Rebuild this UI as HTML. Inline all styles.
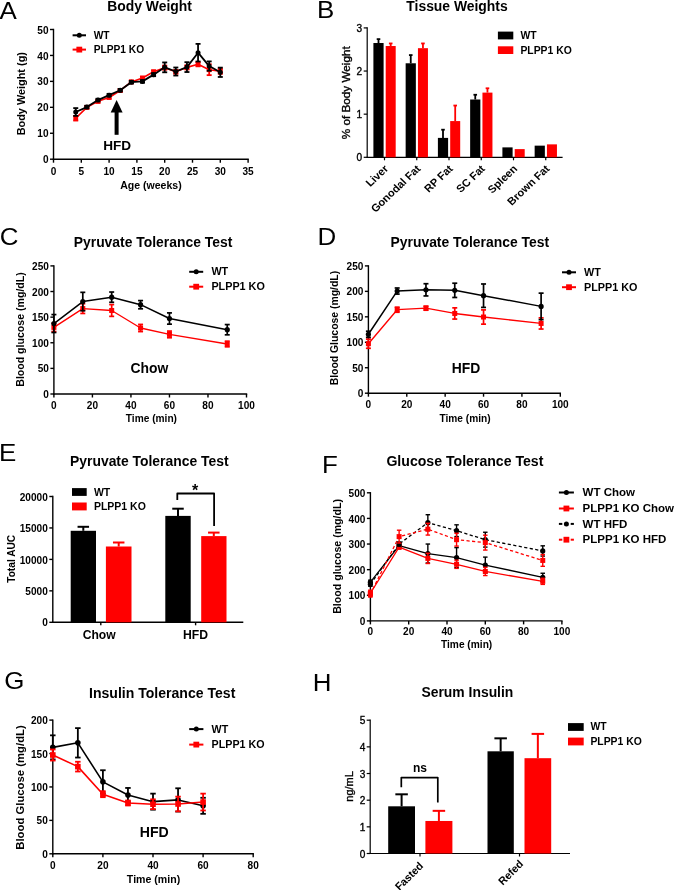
<!DOCTYPE html><html><head><meta charset="utf-8"><style>html,body{margin:0;padding:0;background:#fff;overflow:hidden;width:675px;height:890px;}svg{display:block;filter:blur(0.35px);}</style></head><body>
<svg width="675" height="890" viewBox="0 0 675 890" font-family='"Liberation Sans", sans-serif'>
<rect width="675" height="890" fill="#fff"/>
<text font-size="24.0" font-weight="normal" text-anchor="start" fill="#000" transform="translate(-0.50 18.50) scale(1.08 1)">A</text>
<text font-size="13.9" font-weight="bold" text-anchor="middle" fill="#000" transform="translate(149.60 10.80) scale(1.0 1)">Body Weight</text>
<line x1="53.50" y1="28.80" x2="53.50" y2="159.90" stroke="#000" stroke-width="1.4" stroke-linecap="butt"/>
<line x1="50.00" y1="159.20" x2="53.50" y2="159.20" stroke="#000" stroke-width="1.4" stroke-linecap="butt"/>
<text font-size="10.3" font-weight="bold" text-anchor="end" fill="#000" transform="translate(48.50 163.30) scale(0.98 1)">0</text>
<line x1="50.00" y1="133.26" x2="53.50" y2="133.26" stroke="#000" stroke-width="1.4" stroke-linecap="butt"/>
<text font-size="10.3" font-weight="bold" text-anchor="end" fill="#000" transform="translate(48.50 137.36) scale(0.98 1)">10</text>
<line x1="50.00" y1="107.32" x2="53.50" y2="107.32" stroke="#000" stroke-width="1.4" stroke-linecap="butt"/>
<text font-size="10.3" font-weight="bold" text-anchor="end" fill="#000" transform="translate(48.50 111.42) scale(0.98 1)">20</text>
<line x1="50.00" y1="81.38" x2="53.50" y2="81.38" stroke="#000" stroke-width="1.4" stroke-linecap="butt"/>
<text font-size="10.3" font-weight="bold" text-anchor="end" fill="#000" transform="translate(48.50 85.48) scale(0.98 1)">30</text>
<line x1="50.00" y1="55.44" x2="53.50" y2="55.44" stroke="#000" stroke-width="1.4" stroke-linecap="butt"/>
<text font-size="10.3" font-weight="bold" text-anchor="end" fill="#000" transform="translate(48.50 59.54) scale(0.98 1)">40</text>
<line x1="50.00" y1="29.50" x2="53.50" y2="29.50" stroke="#000" stroke-width="1.4" stroke-linecap="butt"/>
<text font-size="10.3" font-weight="bold" text-anchor="end" fill="#000" transform="translate(48.50 33.60) scale(0.98 1)">50</text>
<line x1="52.80" y1="159.20" x2="248.80" y2="159.20" stroke="#000" stroke-width="1.4" stroke-linecap="butt"/>
<line x1="53.50" y1="159.20" x2="53.50" y2="162.70" stroke="#000" stroke-width="1.4" stroke-linecap="butt"/>
<text font-size="10.3" font-weight="bold" text-anchor="middle" fill="#000" transform="translate(53.50 174.70) scale(0.98 1)">0</text>
<line x1="81.30" y1="159.20" x2="81.30" y2="162.70" stroke="#000" stroke-width="1.4" stroke-linecap="butt"/>
<text font-size="10.3" font-weight="bold" text-anchor="middle" fill="#000" transform="translate(81.30 174.70) scale(0.98 1)">5</text>
<line x1="109.10" y1="159.20" x2="109.10" y2="162.70" stroke="#000" stroke-width="1.4" stroke-linecap="butt"/>
<text font-size="10.3" font-weight="bold" text-anchor="middle" fill="#000" transform="translate(109.10 174.70) scale(0.98 1)">10</text>
<line x1="136.90" y1="159.20" x2="136.90" y2="162.70" stroke="#000" stroke-width="1.4" stroke-linecap="butt"/>
<text font-size="10.3" font-weight="bold" text-anchor="middle" fill="#000" transform="translate(136.90 174.70) scale(0.98 1)">15</text>
<line x1="164.70" y1="159.20" x2="164.70" y2="162.70" stroke="#000" stroke-width="1.4" stroke-linecap="butt"/>
<text font-size="10.3" font-weight="bold" text-anchor="middle" fill="#000" transform="translate(164.70 174.70) scale(0.98 1)">20</text>
<line x1="192.50" y1="159.20" x2="192.50" y2="162.70" stroke="#000" stroke-width="1.4" stroke-linecap="butt"/>
<text font-size="10.3" font-weight="bold" text-anchor="middle" fill="#000" transform="translate(192.50 174.70) scale(0.98 1)">25</text>
<line x1="220.30" y1="159.20" x2="220.30" y2="162.70" stroke="#000" stroke-width="1.4" stroke-linecap="butt"/>
<text font-size="10.3" font-weight="bold" text-anchor="middle" fill="#000" transform="translate(220.30 174.70) scale(0.98 1)">30</text>
<line x1="248.10" y1="159.20" x2="248.10" y2="162.70" stroke="#000" stroke-width="1.4" stroke-linecap="butt"/>
<text font-size="10.3" font-weight="bold" text-anchor="middle" fill="#000" transform="translate(248.10 174.70) scale(0.98 1)">35</text>
<text font-size="10.6" font-weight="bold" text-anchor="middle" fill="#000" transform="translate(150.90 188.80) scale(1.0 1)" textLength="61.5" lengthAdjust="spacingAndGlyphs">Age (weeks)</text>
<text font-size="10.9" font-weight="bold" text-anchor="middle" fill="#000" transform="translate(24.60 93.70) scale(1.0 1) rotate(-90)" textLength="83.2" lengthAdjust="spacingAndGlyphs">Body Weight (g)</text>
<polyline points="75.74,118.21 86.86,107.32 97.98,101.35 109.10,97.46 120.22,90.46 131.34,81.90 142.46,78.01 153.58,71.78 164.70,67.63 175.82,71.78 186.94,67.37 198.06,64.26 209.18,69.71 220.30,71.26" fill="none" stroke="#ff0000" stroke-width="1.6" stroke-linejoin="round"/>
<line x1="75.74" y1="118.21" x2="75.74" y2="115.88" stroke="#ff0000" stroke-width="1.8" stroke-linecap="butt"/>
<line x1="73.24" y1="115.88" x2="78.24" y2="115.88" stroke="#ff0000" stroke-width="1.8" stroke-linecap="butt"/>
<line x1="75.74" y1="118.21" x2="75.74" y2="120.55" stroke="#ff0000" stroke-width="1.8" stroke-linecap="butt"/>
<line x1="73.24" y1="120.55" x2="78.24" y2="120.55" stroke="#ff0000" stroke-width="1.8" stroke-linecap="butt"/>
<rect x="73.34" y="115.81" width="4.80" height="4.80" fill="#ff0000"/>
<line x1="86.86" y1="107.32" x2="86.86" y2="106.02" stroke="#ff0000" stroke-width="1.8" stroke-linecap="butt"/>
<line x1="84.36" y1="106.02" x2="89.36" y2="106.02" stroke="#ff0000" stroke-width="1.8" stroke-linecap="butt"/>
<line x1="86.86" y1="107.32" x2="86.86" y2="108.62" stroke="#ff0000" stroke-width="1.8" stroke-linecap="butt"/>
<line x1="84.36" y1="108.62" x2="89.36" y2="108.62" stroke="#ff0000" stroke-width="1.8" stroke-linecap="butt"/>
<rect x="84.46" y="104.92" width="4.80" height="4.80" fill="#ff0000"/>
<line x1="97.98" y1="101.35" x2="97.98" y2="100.06" stroke="#ff0000" stroke-width="1.8" stroke-linecap="butt"/>
<line x1="95.48" y1="100.06" x2="100.48" y2="100.06" stroke="#ff0000" stroke-width="1.8" stroke-linecap="butt"/>
<line x1="97.98" y1="101.35" x2="97.98" y2="102.65" stroke="#ff0000" stroke-width="1.8" stroke-linecap="butt"/>
<line x1="95.48" y1="102.65" x2="100.48" y2="102.65" stroke="#ff0000" stroke-width="1.8" stroke-linecap="butt"/>
<rect x="95.58" y="98.95" width="4.80" height="4.80" fill="#ff0000"/>
<line x1="109.10" y1="97.46" x2="109.10" y2="96.17" stroke="#ff0000" stroke-width="1.8" stroke-linecap="butt"/>
<line x1="106.60" y1="96.17" x2="111.60" y2="96.17" stroke="#ff0000" stroke-width="1.8" stroke-linecap="butt"/>
<line x1="109.10" y1="97.46" x2="109.10" y2="98.76" stroke="#ff0000" stroke-width="1.8" stroke-linecap="butt"/>
<line x1="106.60" y1="98.76" x2="111.60" y2="98.76" stroke="#ff0000" stroke-width="1.8" stroke-linecap="butt"/>
<rect x="106.70" y="95.06" width="4.80" height="4.80" fill="#ff0000"/>
<line x1="120.22" y1="90.46" x2="120.22" y2="89.16" stroke="#ff0000" stroke-width="1.8" stroke-linecap="butt"/>
<line x1="117.72" y1="89.16" x2="122.72" y2="89.16" stroke="#ff0000" stroke-width="1.8" stroke-linecap="butt"/>
<line x1="120.22" y1="90.46" x2="120.22" y2="91.76" stroke="#ff0000" stroke-width="1.8" stroke-linecap="butt"/>
<line x1="117.72" y1="91.76" x2="122.72" y2="91.76" stroke="#ff0000" stroke-width="1.8" stroke-linecap="butt"/>
<rect x="117.82" y="88.06" width="4.80" height="4.80" fill="#ff0000"/>
<line x1="131.34" y1="81.90" x2="131.34" y2="80.60" stroke="#ff0000" stroke-width="1.8" stroke-linecap="butt"/>
<line x1="128.84" y1="80.60" x2="133.84" y2="80.60" stroke="#ff0000" stroke-width="1.8" stroke-linecap="butt"/>
<line x1="131.34" y1="81.90" x2="131.34" y2="83.20" stroke="#ff0000" stroke-width="1.8" stroke-linecap="butt"/>
<line x1="128.84" y1="83.20" x2="133.84" y2="83.20" stroke="#ff0000" stroke-width="1.8" stroke-linecap="butt"/>
<rect x="128.94" y="79.50" width="4.80" height="4.80" fill="#ff0000"/>
<line x1="142.46" y1="78.01" x2="142.46" y2="76.71" stroke="#ff0000" stroke-width="1.8" stroke-linecap="butt"/>
<line x1="139.96" y1="76.71" x2="144.96" y2="76.71" stroke="#ff0000" stroke-width="1.8" stroke-linecap="butt"/>
<line x1="142.46" y1="78.01" x2="142.46" y2="79.30" stroke="#ff0000" stroke-width="1.8" stroke-linecap="butt"/>
<line x1="139.96" y1="79.30" x2="144.96" y2="79.30" stroke="#ff0000" stroke-width="1.8" stroke-linecap="butt"/>
<rect x="140.06" y="75.61" width="4.80" height="4.80" fill="#ff0000"/>
<line x1="153.58" y1="71.78" x2="153.58" y2="70.49" stroke="#ff0000" stroke-width="1.8" stroke-linecap="butt"/>
<line x1="151.08" y1="70.49" x2="156.08" y2="70.49" stroke="#ff0000" stroke-width="1.8" stroke-linecap="butt"/>
<line x1="153.58" y1="71.78" x2="153.58" y2="73.08" stroke="#ff0000" stroke-width="1.8" stroke-linecap="butt"/>
<line x1="151.08" y1="73.08" x2="156.08" y2="73.08" stroke="#ff0000" stroke-width="1.8" stroke-linecap="butt"/>
<rect x="151.18" y="69.38" width="4.80" height="4.80" fill="#ff0000"/>
<line x1="164.70" y1="67.63" x2="164.70" y2="65.56" stroke="#ff0000" stroke-width="1.8" stroke-linecap="butt"/>
<line x1="162.20" y1="65.56" x2="167.20" y2="65.56" stroke="#ff0000" stroke-width="1.8" stroke-linecap="butt"/>
<line x1="164.70" y1="67.63" x2="164.70" y2="69.71" stroke="#ff0000" stroke-width="1.8" stroke-linecap="butt"/>
<line x1="162.20" y1="69.71" x2="167.20" y2="69.71" stroke="#ff0000" stroke-width="1.8" stroke-linecap="butt"/>
<rect x="162.30" y="65.23" width="4.80" height="4.80" fill="#ff0000"/>
<line x1="175.82" y1="71.78" x2="175.82" y2="69.97" stroke="#ff0000" stroke-width="1.8" stroke-linecap="butt"/>
<line x1="173.32" y1="69.97" x2="178.32" y2="69.97" stroke="#ff0000" stroke-width="1.8" stroke-linecap="butt"/>
<line x1="175.82" y1="71.78" x2="175.82" y2="73.60" stroke="#ff0000" stroke-width="1.8" stroke-linecap="butt"/>
<line x1="173.32" y1="73.60" x2="178.32" y2="73.60" stroke="#ff0000" stroke-width="1.8" stroke-linecap="butt"/>
<rect x="173.42" y="69.38" width="4.80" height="4.80" fill="#ff0000"/>
<line x1="186.94" y1="67.37" x2="186.94" y2="65.30" stroke="#ff0000" stroke-width="1.8" stroke-linecap="butt"/>
<line x1="184.44" y1="65.30" x2="189.44" y2="65.30" stroke="#ff0000" stroke-width="1.8" stroke-linecap="butt"/>
<line x1="186.94" y1="67.37" x2="186.94" y2="69.45" stroke="#ff0000" stroke-width="1.8" stroke-linecap="butt"/>
<line x1="184.44" y1="69.45" x2="189.44" y2="69.45" stroke="#ff0000" stroke-width="1.8" stroke-linecap="butt"/>
<rect x="184.54" y="64.97" width="4.80" height="4.80" fill="#ff0000"/>
<line x1="198.06" y1="64.26" x2="198.06" y2="62.18" stroke="#ff0000" stroke-width="1.8" stroke-linecap="butt"/>
<line x1="195.56" y1="62.18" x2="200.56" y2="62.18" stroke="#ff0000" stroke-width="1.8" stroke-linecap="butt"/>
<line x1="198.06" y1="64.26" x2="198.06" y2="66.33" stroke="#ff0000" stroke-width="1.8" stroke-linecap="butt"/>
<line x1="195.56" y1="66.33" x2="200.56" y2="66.33" stroke="#ff0000" stroke-width="1.8" stroke-linecap="butt"/>
<rect x="195.66" y="61.86" width="4.80" height="4.80" fill="#ff0000"/>
<line x1="209.18" y1="69.71" x2="209.18" y2="64.26" stroke="#ff0000" stroke-width="1.8" stroke-linecap="butt"/>
<line x1="206.68" y1="64.26" x2="211.68" y2="64.26" stroke="#ff0000" stroke-width="1.8" stroke-linecap="butt"/>
<line x1="209.18" y1="69.71" x2="209.18" y2="75.15" stroke="#ff0000" stroke-width="1.8" stroke-linecap="butt"/>
<line x1="206.68" y1="75.15" x2="211.68" y2="75.15" stroke="#ff0000" stroke-width="1.8" stroke-linecap="butt"/>
<rect x="206.78" y="67.31" width="4.80" height="4.80" fill="#ff0000"/>
<line x1="220.30" y1="71.26" x2="220.30" y2="68.67" stroke="#ff0000" stroke-width="1.8" stroke-linecap="butt"/>
<line x1="217.80" y1="68.67" x2="222.80" y2="68.67" stroke="#ff0000" stroke-width="1.8" stroke-linecap="butt"/>
<line x1="220.30" y1="71.26" x2="220.30" y2="73.86" stroke="#ff0000" stroke-width="1.8" stroke-linecap="butt"/>
<line x1="217.80" y1="73.86" x2="222.80" y2="73.86" stroke="#ff0000" stroke-width="1.8" stroke-linecap="butt"/>
<rect x="217.90" y="68.86" width="4.80" height="4.80" fill="#ff0000"/>
<polyline points="75.74,111.99 86.86,107.06 97.98,100.06 109.10,95.13 120.22,90.20 131.34,82.16 142.46,81.38 153.58,74.64 164.70,67.37 175.82,71.52 186.94,67.11 198.06,52.69 209.18,66.08 220.30,72.30" fill="none" stroke="#000" stroke-width="1.8" stroke-linejoin="round"/>
<line x1="75.74" y1="111.99" x2="75.74" y2="108.10" stroke="#000" stroke-width="1.8" stroke-linecap="butt"/>
<line x1="73.24" y1="108.10" x2="78.24" y2="108.10" stroke="#000" stroke-width="1.8" stroke-linecap="butt"/>
<line x1="75.74" y1="111.99" x2="75.74" y2="115.88" stroke="#000" stroke-width="1.8" stroke-linecap="butt"/>
<line x1="73.24" y1="115.88" x2="78.24" y2="115.88" stroke="#000" stroke-width="1.8" stroke-linecap="butt"/>
<circle cx="75.74" cy="111.99" r="2.5" fill="#000"/>
<line x1="86.86" y1="107.06" x2="86.86" y2="105.76" stroke="#000" stroke-width="1.8" stroke-linecap="butt"/>
<line x1="84.36" y1="105.76" x2="89.36" y2="105.76" stroke="#000" stroke-width="1.8" stroke-linecap="butt"/>
<line x1="86.86" y1="107.06" x2="86.86" y2="108.36" stroke="#000" stroke-width="1.8" stroke-linecap="butt"/>
<line x1="84.36" y1="108.36" x2="89.36" y2="108.36" stroke="#000" stroke-width="1.8" stroke-linecap="butt"/>
<circle cx="86.86" cy="107.06" r="2.5" fill="#000"/>
<line x1="97.98" y1="100.06" x2="97.98" y2="98.76" stroke="#000" stroke-width="1.8" stroke-linecap="butt"/>
<line x1="95.48" y1="98.76" x2="100.48" y2="98.76" stroke="#000" stroke-width="1.8" stroke-linecap="butt"/>
<line x1="97.98" y1="100.06" x2="97.98" y2="101.35" stroke="#000" stroke-width="1.8" stroke-linecap="butt"/>
<line x1="95.48" y1="101.35" x2="100.48" y2="101.35" stroke="#000" stroke-width="1.8" stroke-linecap="butt"/>
<circle cx="97.98" cy="100.06" r="2.5" fill="#000"/>
<line x1="109.10" y1="95.13" x2="109.10" y2="93.83" stroke="#000" stroke-width="1.8" stroke-linecap="butt"/>
<line x1="106.60" y1="93.83" x2="111.60" y2="93.83" stroke="#000" stroke-width="1.8" stroke-linecap="butt"/>
<line x1="109.10" y1="95.13" x2="109.10" y2="96.43" stroke="#000" stroke-width="1.8" stroke-linecap="butt"/>
<line x1="106.60" y1="96.43" x2="111.60" y2="96.43" stroke="#000" stroke-width="1.8" stroke-linecap="butt"/>
<circle cx="109.10" cy="95.13" r="2.5" fill="#000"/>
<line x1="120.22" y1="90.20" x2="120.22" y2="88.90" stroke="#000" stroke-width="1.8" stroke-linecap="butt"/>
<line x1="117.72" y1="88.90" x2="122.72" y2="88.90" stroke="#000" stroke-width="1.8" stroke-linecap="butt"/>
<line x1="120.22" y1="90.20" x2="120.22" y2="91.50" stroke="#000" stroke-width="1.8" stroke-linecap="butt"/>
<line x1="117.72" y1="91.50" x2="122.72" y2="91.50" stroke="#000" stroke-width="1.8" stroke-linecap="butt"/>
<circle cx="120.22" cy="90.20" r="2.5" fill="#000"/>
<line x1="131.34" y1="82.16" x2="131.34" y2="80.86" stroke="#000" stroke-width="1.8" stroke-linecap="butt"/>
<line x1="128.84" y1="80.86" x2="133.84" y2="80.86" stroke="#000" stroke-width="1.8" stroke-linecap="butt"/>
<line x1="131.34" y1="82.16" x2="131.34" y2="83.46" stroke="#000" stroke-width="1.8" stroke-linecap="butt"/>
<line x1="128.84" y1="83.46" x2="133.84" y2="83.46" stroke="#000" stroke-width="1.8" stroke-linecap="butt"/>
<circle cx="131.34" cy="82.16" r="2.5" fill="#000"/>
<line x1="142.46" y1="81.38" x2="142.46" y2="80.08" stroke="#000" stroke-width="1.8" stroke-linecap="butt"/>
<line x1="139.96" y1="80.08" x2="144.96" y2="80.08" stroke="#000" stroke-width="1.8" stroke-linecap="butt"/>
<line x1="142.46" y1="81.38" x2="142.46" y2="82.68" stroke="#000" stroke-width="1.8" stroke-linecap="butt"/>
<line x1="139.96" y1="82.68" x2="144.96" y2="82.68" stroke="#000" stroke-width="1.8" stroke-linecap="butt"/>
<circle cx="142.46" cy="81.38" r="2.5" fill="#000"/>
<line x1="153.58" y1="74.64" x2="153.58" y2="73.08" stroke="#000" stroke-width="1.8" stroke-linecap="butt"/>
<line x1="151.08" y1="73.08" x2="156.08" y2="73.08" stroke="#000" stroke-width="1.8" stroke-linecap="butt"/>
<line x1="153.58" y1="74.64" x2="153.58" y2="76.19" stroke="#000" stroke-width="1.8" stroke-linecap="butt"/>
<line x1="151.08" y1="76.19" x2="156.08" y2="76.19" stroke="#000" stroke-width="1.8" stroke-linecap="butt"/>
<circle cx="153.58" cy="74.64" r="2.5" fill="#000"/>
<line x1="164.70" y1="67.37" x2="164.70" y2="62.44" stroke="#000" stroke-width="1.8" stroke-linecap="butt"/>
<line x1="162.20" y1="62.44" x2="167.20" y2="62.44" stroke="#000" stroke-width="1.8" stroke-linecap="butt"/>
<line x1="164.70" y1="67.37" x2="164.70" y2="72.30" stroke="#000" stroke-width="1.8" stroke-linecap="butt"/>
<line x1="162.20" y1="72.30" x2="167.20" y2="72.30" stroke="#000" stroke-width="1.8" stroke-linecap="butt"/>
<circle cx="164.70" cy="67.37" r="2.5" fill="#000"/>
<line x1="175.82" y1="71.52" x2="175.82" y2="67.50" stroke="#000" stroke-width="1.8" stroke-linecap="butt"/>
<line x1="173.32" y1="67.50" x2="178.32" y2="67.50" stroke="#000" stroke-width="1.8" stroke-linecap="butt"/>
<line x1="175.82" y1="71.52" x2="175.82" y2="75.54" stroke="#000" stroke-width="1.8" stroke-linecap="butt"/>
<line x1="173.32" y1="75.54" x2="178.32" y2="75.54" stroke="#000" stroke-width="1.8" stroke-linecap="butt"/>
<circle cx="175.82" cy="71.52" r="2.5" fill="#000"/>
<line x1="186.94" y1="67.11" x2="186.94" y2="62.18" stroke="#000" stroke-width="1.8" stroke-linecap="butt"/>
<line x1="184.44" y1="62.18" x2="189.44" y2="62.18" stroke="#000" stroke-width="1.8" stroke-linecap="butt"/>
<line x1="186.94" y1="67.11" x2="186.94" y2="72.04" stroke="#000" stroke-width="1.8" stroke-linecap="butt"/>
<line x1="184.44" y1="72.04" x2="189.44" y2="72.04" stroke="#000" stroke-width="1.8" stroke-linecap="butt"/>
<circle cx="186.94" cy="67.11" r="2.5" fill="#000"/>
<line x1="198.06" y1="52.69" x2="198.06" y2="43.87" stroke="#000" stroke-width="1.8" stroke-linecap="butt"/>
<line x1="195.56" y1="43.87" x2="200.56" y2="43.87" stroke="#000" stroke-width="1.8" stroke-linecap="butt"/>
<line x1="198.06" y1="52.69" x2="198.06" y2="61.51" stroke="#000" stroke-width="1.8" stroke-linecap="butt"/>
<line x1="195.56" y1="61.51" x2="200.56" y2="61.51" stroke="#000" stroke-width="1.8" stroke-linecap="butt"/>
<circle cx="198.06" cy="52.69" r="2.5" fill="#000"/>
<line x1="209.18" y1="66.08" x2="209.18" y2="61.41" stroke="#000" stroke-width="1.8" stroke-linecap="butt"/>
<line x1="206.68" y1="61.41" x2="211.68" y2="61.41" stroke="#000" stroke-width="1.8" stroke-linecap="butt"/>
<line x1="209.18" y1="66.08" x2="209.18" y2="70.74" stroke="#000" stroke-width="1.8" stroke-linecap="butt"/>
<line x1="206.68" y1="70.74" x2="211.68" y2="70.74" stroke="#000" stroke-width="1.8" stroke-linecap="butt"/>
<circle cx="209.18" cy="66.08" r="2.5" fill="#000"/>
<line x1="220.30" y1="72.30" x2="220.30" y2="67.63" stroke="#000" stroke-width="1.8" stroke-linecap="butt"/>
<line x1="217.80" y1="67.63" x2="222.80" y2="67.63" stroke="#000" stroke-width="1.8" stroke-linecap="butt"/>
<line x1="220.30" y1="72.30" x2="220.30" y2="76.97" stroke="#000" stroke-width="1.8" stroke-linecap="butt"/>
<line x1="217.80" y1="76.97" x2="222.80" y2="76.97" stroke="#000" stroke-width="1.8" stroke-linecap="butt"/>
<circle cx="220.30" cy="72.30" r="2.5" fill="#000"/>
<line x1="72.60" y1="35.30" x2="86.00" y2="35.30" stroke="#000" stroke-width="2.0" stroke-linecap="butt"/>
<circle cx="79.30" cy="35.30" r="2.5" fill="#000"/>
<text font-size="10.2" font-weight="bold" text-anchor="start" fill="#000" transform="translate(93.70 38.56) scale(1.0 1)">WT</text>
<line x1="72.60" y1="49.60" x2="86.00" y2="49.60" stroke="#ff0000" stroke-width="2.0" stroke-linecap="butt"/>
<rect x="76.40" y="46.70" width="5.80" height="5.80" fill="#ff0000"/>
<text font-size="10.2" font-weight="bold" text-anchor="start" fill="#000" transform="translate(93.70 52.86) scale(1.0 1)">PLPP1 KO</text>
<rect x="114.60" y="111.50" width="4.00" height="23.30" fill="#000"/>
<polygon points="116.6,100 110.7,112.4 122.6,112.4" fill="#000"/>
<text font-size="13.6" font-weight="bold" text-anchor="middle" fill="#000" transform="translate(117.10 149.70) scale(1.0 1)">HFD</text>
<text font-size="24.0" font-weight="normal" text-anchor="start" fill="#000" transform="translate(317.00 18.30) scale(1.08 1)">B</text>
<text font-size="13.9" font-weight="bold" text-anchor="middle" fill="#000" transform="translate(457.00 10.90) scale(1.0 1)">Tissue Weights</text>
<line x1="367.20" y1="27.31" x2="367.20" y2="157.90" stroke="#000" stroke-width="1.2" stroke-linecap="butt"/>
<line x1="363.70" y1="157.30" x2="367.20" y2="157.30" stroke="#000" stroke-width="1.2" stroke-linecap="butt"/>
<text font-size="10.3" font-weight="normal" text-anchor="end" fill="#000" transform="translate(362.10 161.40) scale(0.98 1)" stroke="#000" stroke-width="0.35">0</text>
<line x1="363.70" y1="114.17" x2="367.20" y2="114.17" stroke="#000" stroke-width="1.2" stroke-linecap="butt"/>
<text font-size="10.3" font-weight="normal" text-anchor="end" fill="#000" transform="translate(362.10 118.27) scale(0.98 1)" stroke="#000" stroke-width="0.35">1</text>
<line x1="363.70" y1="71.04" x2="367.20" y2="71.04" stroke="#000" stroke-width="1.2" stroke-linecap="butt"/>
<text font-size="10.3" font-weight="normal" text-anchor="end" fill="#000" transform="translate(362.10 75.14) scale(0.98 1)" stroke="#000" stroke-width="0.35">2</text>
<line x1="363.70" y1="27.91" x2="367.20" y2="27.91" stroke="#000" stroke-width="1.2" stroke-linecap="butt"/>
<text font-size="10.3" font-weight="normal" text-anchor="end" fill="#000" transform="translate(362.10 32.01) scale(0.98 1)" stroke="#000" stroke-width="0.35">3</text>
<line x1="366.60" y1="157.30" x2="562.60" y2="157.30" stroke="#000" stroke-width="1.2" stroke-linecap="butt"/>
<line x1="384.50" y1="157.30" x2="384.50" y2="160.30" stroke="#000" stroke-width="1.2" stroke-linecap="butt"/>
<line x1="416.75" y1="157.30" x2="416.75" y2="160.30" stroke="#000" stroke-width="1.2" stroke-linecap="butt"/>
<line x1="449.00" y1="157.30" x2="449.00" y2="160.30" stroke="#000" stroke-width="1.2" stroke-linecap="butt"/>
<line x1="481.25" y1="157.30" x2="481.25" y2="160.30" stroke="#000" stroke-width="1.2" stroke-linecap="butt"/>
<line x1="513.50" y1="157.30" x2="513.50" y2="160.30" stroke="#000" stroke-width="1.2" stroke-linecap="butt"/>
<line x1="545.75" y1="157.30" x2="545.75" y2="160.30" stroke="#000" stroke-width="1.2" stroke-linecap="butt"/>
<rect x="373.40" y="43.01" width="10.20" height="114.29" fill="#000"/>
<line x1="378.50" y1="43.01" x2="378.50" y2="39.12" stroke="#000" stroke-width="1.8" stroke-linecap="butt"/>
<line x1="376.70" y1="39.12" x2="380.30" y2="39.12" stroke="#000" stroke-width="1.8" stroke-linecap="butt"/>
<rect x="385.70" y="46.02" width="10.00" height="111.28" fill="#ff0000"/>
<line x1="390.70" y1="46.02" x2="390.70" y2="43.44" stroke="#ff0000" stroke-width="1.8" stroke-linecap="butt"/>
<line x1="388.90" y1="43.44" x2="392.50" y2="43.44" stroke="#ff0000" stroke-width="1.8" stroke-linecap="butt"/>
<rect x="405.65" y="63.28" width="10.20" height="94.02" fill="#000"/>
<line x1="410.75" y1="63.28" x2="410.75" y2="55.08" stroke="#000" stroke-width="1.8" stroke-linecap="butt"/>
<line x1="408.95" y1="55.08" x2="412.55" y2="55.08" stroke="#000" stroke-width="1.8" stroke-linecap="butt"/>
<rect x="417.95" y="48.18" width="10.00" height="109.12" fill="#ff0000"/>
<line x1="422.95" y1="48.18" x2="422.95" y2="43.44" stroke="#ff0000" stroke-width="1.8" stroke-linecap="butt"/>
<line x1="421.15" y1="43.44" x2="424.75" y2="43.44" stroke="#ff0000" stroke-width="1.8" stroke-linecap="butt"/>
<rect x="437.90" y="137.89" width="10.20" height="19.41" fill="#000"/>
<line x1="443.00" y1="137.89" x2="443.00" y2="129.70" stroke="#000" stroke-width="1.8" stroke-linecap="butt"/>
<line x1="441.20" y1="129.70" x2="444.80" y2="129.70" stroke="#000" stroke-width="1.8" stroke-linecap="butt"/>
<rect x="450.20" y="121.07" width="10.00" height="36.23" fill="#ff0000"/>
<line x1="455.20" y1="121.07" x2="455.20" y2="105.54" stroke="#ff0000" stroke-width="1.8" stroke-linecap="butt"/>
<line x1="453.40" y1="105.54" x2="457.00" y2="105.54" stroke="#ff0000" stroke-width="1.8" stroke-linecap="butt"/>
<rect x="470.15" y="99.51" width="10.20" height="57.79" fill="#000"/>
<line x1="475.25" y1="99.51" x2="475.25" y2="94.76" stroke="#000" stroke-width="1.8" stroke-linecap="butt"/>
<line x1="473.45" y1="94.76" x2="477.05" y2="94.76" stroke="#000" stroke-width="1.8" stroke-linecap="butt"/>
<rect x="482.45" y="92.61" width="10.00" height="64.70" fill="#ff0000"/>
<line x1="487.45" y1="92.61" x2="487.45" y2="88.29" stroke="#ff0000" stroke-width="1.8" stroke-linecap="butt"/>
<line x1="485.65" y1="88.29" x2="489.25" y2="88.29" stroke="#ff0000" stroke-width="1.8" stroke-linecap="butt"/>
<rect x="502.40" y="147.38" width="10.20" height="9.92" fill="#000"/>
<rect x="514.70" y="149.11" width="10.00" height="8.19" fill="#ff0000"/>
<rect x="534.65" y="145.65" width="10.20" height="11.65" fill="#000"/>
<rect x="546.95" y="144.36" width="10.00" height="12.94" fill="#ff0000"/>
<text font-size="10.6" font-weight="bold" text-anchor="end" fill="#000" transform="translate(389.00 169.40) scale(1.05 1) rotate(-45)">Liver</text>
<text font-size="10.6" font-weight="bold" text-anchor="end" fill="#000" transform="translate(421.25 169.40) scale(1.05 1) rotate(-45)">Gonodal Fat</text>
<text font-size="10.6" font-weight="bold" text-anchor="end" fill="#000" transform="translate(453.50 169.40) scale(1.05 1) rotate(-45)">RP Fat</text>
<text font-size="10.6" font-weight="bold" text-anchor="end" fill="#000" transform="translate(485.75 169.40) scale(1.05 1) rotate(-45)">SC Fat</text>
<text font-size="10.6" font-weight="bold" text-anchor="end" fill="#000" transform="translate(518.00 169.40) scale(1.05 1) rotate(-45)">Spleen</text>
<text font-size="10.6" font-weight="bold" text-anchor="end" fill="#000" transform="translate(550.25 169.40) scale(1.05 1) rotate(-45)">Brown Fat</text>
<text font-size="10.9" font-weight="normal" text-anchor="middle" fill="#000" transform="translate(349.80 92.80) scale(1.0 1) rotate(-90)" textLength="93.0" lengthAdjust="spacingAndGlyphs" stroke="#000" stroke-width="0.35">% of Body Weight</text>
<rect x="497.90" y="31.60" width="15.40" height="7.80" fill="#000"/>
<rect x="497.90" y="46.30" width="15.40" height="7.70" fill="#ff0000"/>
<text font-size="10.4" font-weight="bold" text-anchor="start" fill="#000" transform="translate(520.40 39.20) scale(1.0 1)">WT</text>
<text font-size="10.4" font-weight="bold" text-anchor="start" fill="#000" transform="translate(520.40 53.90) scale(1.0 1)">PLPP1 KO</text>
<text font-size="24.0" font-weight="normal" text-anchor="start" fill="#000" transform="translate(-0.20 244.50) scale(1.08 1)">C</text>
<text font-size="13.9" font-weight="bold" text-anchor="middle" fill="#000" transform="translate(153.00 246.70) scale(1.0 1)">Pyruvate Tolerance Test</text>
<line x1="53.90" y1="265.20" x2="53.90" y2="394.70" stroke="#000" stroke-width="1.4" stroke-linecap="butt"/>
<line x1="50.40" y1="394.00" x2="53.90" y2="394.00" stroke="#000" stroke-width="1.4" stroke-linecap="butt"/>
<text font-size="10.3" font-weight="bold" text-anchor="end" fill="#000" transform="translate(48.90 398.10) scale(0.98 1)">0</text>
<line x1="50.40" y1="368.38" x2="53.90" y2="368.38" stroke="#000" stroke-width="1.4" stroke-linecap="butt"/>
<text font-size="10.3" font-weight="bold" text-anchor="end" fill="#000" transform="translate(48.90 372.48) scale(0.98 1)">50</text>
<line x1="50.40" y1="342.76" x2="53.90" y2="342.76" stroke="#000" stroke-width="1.4" stroke-linecap="butt"/>
<text font-size="10.3" font-weight="bold" text-anchor="end" fill="#000" transform="translate(48.90 346.86) scale(0.98 1)">100</text>
<line x1="50.40" y1="317.14" x2="53.90" y2="317.14" stroke="#000" stroke-width="1.4" stroke-linecap="butt"/>
<text font-size="10.3" font-weight="bold" text-anchor="end" fill="#000" transform="translate(48.90 321.24) scale(0.98 1)">150</text>
<line x1="50.40" y1="291.52" x2="53.90" y2="291.52" stroke="#000" stroke-width="1.4" stroke-linecap="butt"/>
<text font-size="10.3" font-weight="bold" text-anchor="end" fill="#000" transform="translate(48.90 295.62) scale(0.98 1)">200</text>
<line x1="50.40" y1="265.90" x2="53.90" y2="265.90" stroke="#000" stroke-width="1.4" stroke-linecap="butt"/>
<text font-size="10.3" font-weight="bold" text-anchor="end" fill="#000" transform="translate(48.90 270.00) scale(0.98 1)">250</text>
<line x1="53.20" y1="394.00" x2="247.20" y2="394.00" stroke="#000" stroke-width="1.4" stroke-linecap="butt"/>
<line x1="53.90" y1="394.00" x2="53.90" y2="397.50" stroke="#000" stroke-width="1.4" stroke-linecap="butt"/>
<text font-size="10.3" font-weight="bold" text-anchor="middle" fill="#000" transform="translate(53.90 409.10) scale(0.98 1)">0</text>
<line x1="92.42" y1="394.00" x2="92.42" y2="397.50" stroke="#000" stroke-width="1.4" stroke-linecap="butt"/>
<text font-size="10.3" font-weight="bold" text-anchor="middle" fill="#000" transform="translate(92.42 409.10) scale(0.98 1)">20</text>
<line x1="130.94" y1="394.00" x2="130.94" y2="397.50" stroke="#000" stroke-width="1.4" stroke-linecap="butt"/>
<text font-size="10.3" font-weight="bold" text-anchor="middle" fill="#000" transform="translate(130.94 409.10) scale(0.98 1)">40</text>
<line x1="169.46" y1="394.00" x2="169.46" y2="397.50" stroke="#000" stroke-width="1.4" stroke-linecap="butt"/>
<text font-size="10.3" font-weight="bold" text-anchor="middle" fill="#000" transform="translate(169.46 409.10) scale(0.98 1)">60</text>
<line x1="207.98" y1="394.00" x2="207.98" y2="397.50" stroke="#000" stroke-width="1.4" stroke-linecap="butt"/>
<text font-size="10.3" font-weight="bold" text-anchor="middle" fill="#000" transform="translate(207.98 409.10) scale(0.98 1)">80</text>
<line x1="246.50" y1="394.00" x2="246.50" y2="397.50" stroke="#000" stroke-width="1.4" stroke-linecap="butt"/>
<text font-size="10.3" font-weight="bold" text-anchor="middle" fill="#000" transform="translate(246.50 409.10) scale(0.98 1)">100</text>
<text font-size="10.2" font-weight="bold" text-anchor="middle" fill="#000" transform="translate(151.40 422.20) scale(1.0 1)" textLength="51.2" lengthAdjust="spacingAndGlyphs">Time (min)</text>
<text font-size="10.4" font-weight="bold" text-anchor="middle" fill="#000" transform="translate(24.00 329.50) scale(1.0 1) rotate(-90)" textLength="114.5" lengthAdjust="spacingAndGlyphs">Blood glucose (mg/dL)</text>
<polyline points="53.90,327.39 82.79,308.58 111.68,310.48 140.57,328.00 169.46,334.41 227.24,343.99" fill="none" stroke="#ff0000" stroke-width="1.35" stroke-linejoin="round"/>
<line x1="53.90" y1="327.39" x2="53.90" y2="323.29" stroke="#ff0000" stroke-width="1.7" stroke-linecap="butt"/>
<line x1="51.40" y1="323.29" x2="56.40" y2="323.29" stroke="#ff0000" stroke-width="1.7" stroke-linecap="butt"/>
<line x1="53.90" y1="327.39" x2="53.90" y2="331.49" stroke="#ff0000" stroke-width="1.7" stroke-linecap="butt"/>
<line x1="51.40" y1="331.49" x2="56.40" y2="331.49" stroke="#ff0000" stroke-width="1.7" stroke-linecap="butt"/>
<rect x="51.40" y="324.89" width="5.00" height="5.00" fill="#ff0000"/>
<line x1="82.79" y1="308.58" x2="82.79" y2="303.72" stroke="#ff0000" stroke-width="1.7" stroke-linecap="butt"/>
<line x1="80.29" y1="303.72" x2="85.29" y2="303.72" stroke="#ff0000" stroke-width="1.7" stroke-linecap="butt"/>
<line x1="82.79" y1="308.58" x2="82.79" y2="313.45" stroke="#ff0000" stroke-width="1.7" stroke-linecap="butt"/>
<line x1="80.29" y1="313.45" x2="85.29" y2="313.45" stroke="#ff0000" stroke-width="1.7" stroke-linecap="butt"/>
<rect x="80.29" y="306.08" width="5.00" height="5.00" fill="#ff0000"/>
<line x1="111.68" y1="310.48" x2="111.68" y2="304.59" stroke="#ff0000" stroke-width="1.7" stroke-linecap="butt"/>
<line x1="109.18" y1="304.59" x2="114.18" y2="304.59" stroke="#ff0000" stroke-width="1.7" stroke-linecap="butt"/>
<line x1="111.68" y1="310.48" x2="111.68" y2="316.37" stroke="#ff0000" stroke-width="1.7" stroke-linecap="butt"/>
<line x1="109.18" y1="316.37" x2="114.18" y2="316.37" stroke="#ff0000" stroke-width="1.7" stroke-linecap="butt"/>
<rect x="109.18" y="307.98" width="5.00" height="5.00" fill="#ff0000"/>
<line x1="140.57" y1="328.00" x2="140.57" y2="324.42" stroke="#ff0000" stroke-width="1.7" stroke-linecap="butt"/>
<line x1="138.07" y1="324.42" x2="143.07" y2="324.42" stroke="#ff0000" stroke-width="1.7" stroke-linecap="butt"/>
<line x1="140.57" y1="328.00" x2="140.57" y2="331.59" stroke="#ff0000" stroke-width="1.7" stroke-linecap="butt"/>
<line x1="138.07" y1="331.59" x2="143.07" y2="331.59" stroke="#ff0000" stroke-width="1.7" stroke-linecap="butt"/>
<rect x="138.07" y="325.50" width="5.00" height="5.00" fill="#ff0000"/>
<line x1="169.46" y1="334.41" x2="169.46" y2="331.08" stroke="#ff0000" stroke-width="1.7" stroke-linecap="butt"/>
<line x1="166.96" y1="331.08" x2="171.96" y2="331.08" stroke="#ff0000" stroke-width="1.7" stroke-linecap="butt"/>
<line x1="169.46" y1="334.41" x2="169.46" y2="337.74" stroke="#ff0000" stroke-width="1.7" stroke-linecap="butt"/>
<line x1="166.96" y1="337.74" x2="171.96" y2="337.74" stroke="#ff0000" stroke-width="1.7" stroke-linecap="butt"/>
<rect x="166.96" y="331.91" width="5.00" height="5.00" fill="#ff0000"/>
<line x1="227.24" y1="343.99" x2="227.24" y2="341.17" stroke="#ff0000" stroke-width="1.7" stroke-linecap="butt"/>
<line x1="224.74" y1="341.17" x2="229.74" y2="341.17" stroke="#ff0000" stroke-width="1.7" stroke-linecap="butt"/>
<line x1="227.24" y1="343.99" x2="227.24" y2="346.81" stroke="#ff0000" stroke-width="1.7" stroke-linecap="butt"/>
<line x1="224.74" y1="346.81" x2="229.74" y2="346.81" stroke="#ff0000" stroke-width="1.7" stroke-linecap="butt"/>
<rect x="224.74" y="341.49" width="5.00" height="5.00" fill="#ff0000"/>
<polyline points="53.90,323.54 82.79,301.56 111.68,297.16 140.57,304.69 169.46,318.52 227.24,329.69" fill="none" stroke="#000" stroke-width="1.5" stroke-linejoin="round"/>
<line x1="53.90" y1="323.54" x2="53.90" y2="314.58" stroke="#000" stroke-width="1.7" stroke-linecap="butt"/>
<line x1="51.40" y1="314.58" x2="56.40" y2="314.58" stroke="#000" stroke-width="1.7" stroke-linecap="butt"/>
<line x1="53.90" y1="323.54" x2="53.90" y2="332.51" stroke="#000" stroke-width="1.7" stroke-linecap="butt"/>
<line x1="51.40" y1="332.51" x2="56.40" y2="332.51" stroke="#000" stroke-width="1.7" stroke-linecap="butt"/>
<circle cx="53.90" cy="323.54" r="2.6" fill="#000"/>
<line x1="82.79" y1="301.56" x2="82.79" y2="292.34" stroke="#000" stroke-width="1.7" stroke-linecap="butt"/>
<line x1="80.29" y1="292.34" x2="85.29" y2="292.34" stroke="#000" stroke-width="1.7" stroke-linecap="butt"/>
<line x1="82.79" y1="301.56" x2="82.79" y2="310.79" stroke="#000" stroke-width="1.7" stroke-linecap="butt"/>
<line x1="80.29" y1="310.79" x2="85.29" y2="310.79" stroke="#000" stroke-width="1.7" stroke-linecap="butt"/>
<circle cx="82.79" cy="301.56" r="2.6" fill="#000"/>
<line x1="111.68" y1="297.16" x2="111.68" y2="292.03" stroke="#000" stroke-width="1.7" stroke-linecap="butt"/>
<line x1="109.18" y1="292.03" x2="114.18" y2="292.03" stroke="#000" stroke-width="1.7" stroke-linecap="butt"/>
<line x1="111.68" y1="297.16" x2="111.68" y2="302.28" stroke="#000" stroke-width="1.7" stroke-linecap="butt"/>
<line x1="109.18" y1="302.28" x2="114.18" y2="302.28" stroke="#000" stroke-width="1.7" stroke-linecap="butt"/>
<circle cx="111.68" cy="297.16" r="2.6" fill="#000"/>
<line x1="140.57" y1="304.69" x2="140.57" y2="300.59" stroke="#000" stroke-width="1.7" stroke-linecap="butt"/>
<line x1="138.07" y1="300.59" x2="143.07" y2="300.59" stroke="#000" stroke-width="1.7" stroke-linecap="butt"/>
<line x1="140.57" y1="304.69" x2="140.57" y2="308.79" stroke="#000" stroke-width="1.7" stroke-linecap="butt"/>
<line x1="138.07" y1="308.79" x2="143.07" y2="308.79" stroke="#000" stroke-width="1.7" stroke-linecap="butt"/>
<circle cx="140.57" cy="304.69" r="2.6" fill="#000"/>
<line x1="169.46" y1="318.52" x2="169.46" y2="312.89" stroke="#000" stroke-width="1.7" stroke-linecap="butt"/>
<line x1="166.96" y1="312.89" x2="171.96" y2="312.89" stroke="#000" stroke-width="1.7" stroke-linecap="butt"/>
<line x1="169.46" y1="318.52" x2="169.46" y2="324.16" stroke="#000" stroke-width="1.7" stroke-linecap="butt"/>
<line x1="166.96" y1="324.16" x2="171.96" y2="324.16" stroke="#000" stroke-width="1.7" stroke-linecap="butt"/>
<circle cx="169.46" cy="318.52" r="2.6" fill="#000"/>
<line x1="227.24" y1="329.69" x2="227.24" y2="324.57" stroke="#000" stroke-width="1.7" stroke-linecap="butt"/>
<line x1="224.74" y1="324.57" x2="229.74" y2="324.57" stroke="#000" stroke-width="1.7" stroke-linecap="butt"/>
<line x1="227.24" y1="329.69" x2="227.24" y2="334.82" stroke="#000" stroke-width="1.7" stroke-linecap="butt"/>
<line x1="224.74" y1="334.82" x2="229.74" y2="334.82" stroke="#000" stroke-width="1.7" stroke-linecap="butt"/>
<circle cx="227.24" cy="329.69" r="2.6" fill="#000"/>
<line x1="189.20" y1="271.80" x2="203.20" y2="271.80" stroke="#000" stroke-width="2.0" stroke-linecap="butt"/>
<circle cx="196.20" cy="271.80" r="2.5" fill="#000"/>
<text font-size="10.8" font-weight="bold" text-anchor="start" fill="#000" transform="translate(211.40 275.26) scale(1.0 1)">WT</text>
<line x1="189.20" y1="286.70" x2="203.20" y2="286.70" stroke="#ff0000" stroke-width="2.0" stroke-linecap="butt"/>
<rect x="193.30" y="283.80" width="5.80" height="5.80" fill="#ff0000"/>
<text font-size="10.8" font-weight="bold" text-anchor="start" fill="#000" transform="translate(211.40 290.16) scale(1.0 1)">PLPP1 KO</text>
<text font-size="13.9" font-weight="bold" text-anchor="middle" fill="#000" transform="translate(149.30 372.70) scale(1.0 1)">Chow</text>
<text font-size="24.0" font-weight="normal" text-anchor="start" fill="#000" transform="translate(317.50 244.50) scale(1.08 1)">D</text>
<text font-size="13.9" font-weight="bold" text-anchor="middle" fill="#000" transform="translate(469.80 246.70) scale(1.0 1)">Pyruvate Tolerance Test</text>
<line x1="368.40" y1="265.20" x2="368.40" y2="393.90" stroke="#000" stroke-width="1.4" stroke-linecap="butt"/>
<line x1="364.90" y1="393.20" x2="368.40" y2="393.20" stroke="#000" stroke-width="1.4" stroke-linecap="butt"/>
<text font-size="10.3" font-weight="bold" text-anchor="end" fill="#000" transform="translate(363.40 397.30) scale(0.98 1)">0</text>
<line x1="364.90" y1="367.74" x2="368.40" y2="367.74" stroke="#000" stroke-width="1.4" stroke-linecap="butt"/>
<text font-size="10.3" font-weight="bold" text-anchor="end" fill="#000" transform="translate(363.40 371.84) scale(0.98 1)">50</text>
<line x1="364.90" y1="342.28" x2="368.40" y2="342.28" stroke="#000" stroke-width="1.4" stroke-linecap="butt"/>
<text font-size="10.3" font-weight="bold" text-anchor="end" fill="#000" transform="translate(363.40 346.38) scale(0.98 1)">100</text>
<line x1="364.90" y1="316.82" x2="368.40" y2="316.82" stroke="#000" stroke-width="1.4" stroke-linecap="butt"/>
<text font-size="10.3" font-weight="bold" text-anchor="end" fill="#000" transform="translate(363.40 320.92) scale(0.98 1)">150</text>
<line x1="364.90" y1="291.36" x2="368.40" y2="291.36" stroke="#000" stroke-width="1.4" stroke-linecap="butt"/>
<text font-size="10.3" font-weight="bold" text-anchor="end" fill="#000" transform="translate(363.40 295.46) scale(0.98 1)">200</text>
<line x1="364.90" y1="265.90" x2="368.40" y2="265.90" stroke="#000" stroke-width="1.4" stroke-linecap="butt"/>
<text font-size="10.3" font-weight="bold" text-anchor="end" fill="#000" transform="translate(363.40 270.00) scale(0.98 1)">250</text>
<line x1="367.70" y1="393.20" x2="561.00" y2="393.20" stroke="#000" stroke-width="1.4" stroke-linecap="butt"/>
<line x1="368.40" y1="393.20" x2="368.40" y2="396.70" stroke="#000" stroke-width="1.4" stroke-linecap="butt"/>
<text font-size="10.3" font-weight="bold" text-anchor="middle" fill="#000" transform="translate(368.40 408.30) scale(0.98 1)">0</text>
<line x1="406.78" y1="393.20" x2="406.78" y2="396.70" stroke="#000" stroke-width="1.4" stroke-linecap="butt"/>
<text font-size="10.3" font-weight="bold" text-anchor="middle" fill="#000" transform="translate(406.78 408.30) scale(0.98 1)">20</text>
<line x1="445.16" y1="393.20" x2="445.16" y2="396.70" stroke="#000" stroke-width="1.4" stroke-linecap="butt"/>
<text font-size="10.3" font-weight="bold" text-anchor="middle" fill="#000" transform="translate(445.16 408.30) scale(0.98 1)">40</text>
<line x1="483.54" y1="393.20" x2="483.54" y2="396.70" stroke="#000" stroke-width="1.4" stroke-linecap="butt"/>
<text font-size="10.3" font-weight="bold" text-anchor="middle" fill="#000" transform="translate(483.54 408.30) scale(0.98 1)">60</text>
<line x1="521.92" y1="393.20" x2="521.92" y2="396.70" stroke="#000" stroke-width="1.4" stroke-linecap="butt"/>
<text font-size="10.3" font-weight="bold" text-anchor="middle" fill="#000" transform="translate(521.92 408.30) scale(0.98 1)">80</text>
<line x1="560.30" y1="393.20" x2="560.30" y2="396.70" stroke="#000" stroke-width="1.4" stroke-linecap="butt"/>
<text font-size="10.3" font-weight="bold" text-anchor="middle" fill="#000" transform="translate(560.30 408.30) scale(0.98 1)">100</text>
<text font-size="10.2" font-weight="bold" text-anchor="middle" fill="#000" transform="translate(465.00 422.20) scale(1.0 1)" textLength="51.2" lengthAdjust="spacingAndGlyphs">Time (min)</text>
<text font-size="10.4" font-weight="bold" text-anchor="middle" fill="#000" transform="translate(338.40 328.10) scale(1.0 1) rotate(-90)" textLength="114.5" lengthAdjust="spacingAndGlyphs">Blood Glucose (mg/dL)</text>
<polyline points="368.40,343.71 397.18,309.69 425.97,308.16 454.75,313.46 483.54,317.02 541.11,323.44" fill="none" stroke="#ff0000" stroke-width="1.35" stroke-linejoin="round"/>
<line x1="368.40" y1="343.71" x2="368.40" y2="339.12" stroke="#ff0000" stroke-width="1.7" stroke-linecap="butt"/>
<line x1="365.90" y1="339.12" x2="370.90" y2="339.12" stroke="#ff0000" stroke-width="1.7" stroke-linecap="butt"/>
<line x1="368.40" y1="343.71" x2="368.40" y2="348.29" stroke="#ff0000" stroke-width="1.7" stroke-linecap="butt"/>
<line x1="365.90" y1="348.29" x2="370.90" y2="348.29" stroke="#ff0000" stroke-width="1.7" stroke-linecap="butt"/>
<rect x="365.90" y="341.21" width="5.00" height="5.00" fill="#ff0000"/>
<line x1="397.18" y1="309.69" x2="397.18" y2="307.15" stroke="#ff0000" stroke-width="1.7" stroke-linecap="butt"/>
<line x1="394.68" y1="307.15" x2="399.68" y2="307.15" stroke="#ff0000" stroke-width="1.7" stroke-linecap="butt"/>
<line x1="397.18" y1="309.69" x2="397.18" y2="312.24" stroke="#ff0000" stroke-width="1.7" stroke-linecap="butt"/>
<line x1="394.68" y1="312.24" x2="399.68" y2="312.24" stroke="#ff0000" stroke-width="1.7" stroke-linecap="butt"/>
<rect x="394.68" y="307.19" width="5.00" height="5.00" fill="#ff0000"/>
<line x1="425.97" y1="308.16" x2="425.97" y2="306.13" stroke="#ff0000" stroke-width="1.7" stroke-linecap="butt"/>
<line x1="423.47" y1="306.13" x2="428.47" y2="306.13" stroke="#ff0000" stroke-width="1.7" stroke-linecap="butt"/>
<line x1="425.97" y1="308.16" x2="425.97" y2="310.20" stroke="#ff0000" stroke-width="1.7" stroke-linecap="butt"/>
<line x1="423.47" y1="310.20" x2="428.47" y2="310.20" stroke="#ff0000" stroke-width="1.7" stroke-linecap="butt"/>
<rect x="423.47" y="305.66" width="5.00" height="5.00" fill="#ff0000"/>
<line x1="454.75" y1="313.46" x2="454.75" y2="307.86" stroke="#ff0000" stroke-width="1.7" stroke-linecap="butt"/>
<line x1="452.25" y1="307.86" x2="457.25" y2="307.86" stroke="#ff0000" stroke-width="1.7" stroke-linecap="butt"/>
<line x1="454.75" y1="313.46" x2="454.75" y2="319.06" stroke="#ff0000" stroke-width="1.7" stroke-linecap="butt"/>
<line x1="452.25" y1="319.06" x2="457.25" y2="319.06" stroke="#ff0000" stroke-width="1.7" stroke-linecap="butt"/>
<rect x="452.25" y="310.96" width="5.00" height="5.00" fill="#ff0000"/>
<line x1="483.54" y1="317.02" x2="483.54" y2="309.89" stroke="#ff0000" stroke-width="1.7" stroke-linecap="butt"/>
<line x1="481.04" y1="309.89" x2="486.04" y2="309.89" stroke="#ff0000" stroke-width="1.7" stroke-linecap="butt"/>
<line x1="483.54" y1="317.02" x2="483.54" y2="324.15" stroke="#ff0000" stroke-width="1.7" stroke-linecap="butt"/>
<line x1="481.04" y1="324.15" x2="486.04" y2="324.15" stroke="#ff0000" stroke-width="1.7" stroke-linecap="butt"/>
<rect x="481.04" y="314.52" width="5.00" height="5.00" fill="#ff0000"/>
<line x1="541.11" y1="323.44" x2="541.11" y2="317.84" stroke="#ff0000" stroke-width="1.7" stroke-linecap="butt"/>
<line x1="538.61" y1="317.84" x2="543.61" y2="317.84" stroke="#ff0000" stroke-width="1.7" stroke-linecap="butt"/>
<line x1="541.11" y1="323.44" x2="541.11" y2="329.04" stroke="#ff0000" stroke-width="1.7" stroke-linecap="butt"/>
<line x1="538.61" y1="329.04" x2="543.61" y2="329.04" stroke="#ff0000" stroke-width="1.7" stroke-linecap="butt"/>
<rect x="538.61" y="320.94" width="5.00" height="5.00" fill="#ff0000"/>
<polyline points="368.40,334.29 397.18,291.05 425.97,289.83 454.75,290.34 483.54,295.69 541.11,306.38" fill="none" stroke="#000" stroke-width="1.5" stroke-linejoin="round"/>
<line x1="368.40" y1="334.29" x2="368.40" y2="331.23" stroke="#000" stroke-width="1.7" stroke-linecap="butt"/>
<line x1="365.90" y1="331.23" x2="370.90" y2="331.23" stroke="#000" stroke-width="1.7" stroke-linecap="butt"/>
<line x1="368.40" y1="334.29" x2="368.40" y2="337.34" stroke="#000" stroke-width="1.7" stroke-linecap="butt"/>
<line x1="365.90" y1="337.34" x2="370.90" y2="337.34" stroke="#000" stroke-width="1.7" stroke-linecap="butt"/>
<circle cx="368.40" cy="334.29" r="2.6" fill="#000"/>
<line x1="397.18" y1="291.05" x2="397.18" y2="288.00" stroke="#000" stroke-width="1.7" stroke-linecap="butt"/>
<line x1="394.68" y1="288.00" x2="399.68" y2="288.00" stroke="#000" stroke-width="1.7" stroke-linecap="butt"/>
<line x1="397.18" y1="291.05" x2="397.18" y2="294.11" stroke="#000" stroke-width="1.7" stroke-linecap="butt"/>
<line x1="394.68" y1="294.11" x2="399.68" y2="294.11" stroke="#000" stroke-width="1.7" stroke-linecap="butt"/>
<circle cx="397.18" cy="291.05" r="2.6" fill="#000"/>
<line x1="425.97" y1="289.83" x2="425.97" y2="283.72" stroke="#000" stroke-width="1.7" stroke-linecap="butt"/>
<line x1="423.47" y1="283.72" x2="428.47" y2="283.72" stroke="#000" stroke-width="1.7" stroke-linecap="butt"/>
<line x1="425.97" y1="289.83" x2="425.97" y2="295.94" stroke="#000" stroke-width="1.7" stroke-linecap="butt"/>
<line x1="423.47" y1="295.94" x2="428.47" y2="295.94" stroke="#000" stroke-width="1.7" stroke-linecap="butt"/>
<circle cx="425.97" cy="289.83" r="2.6" fill="#000"/>
<line x1="454.75" y1="290.34" x2="454.75" y2="283.21" stroke="#000" stroke-width="1.7" stroke-linecap="butt"/>
<line x1="452.25" y1="283.21" x2="457.25" y2="283.21" stroke="#000" stroke-width="1.7" stroke-linecap="butt"/>
<line x1="454.75" y1="290.34" x2="454.75" y2="297.47" stroke="#000" stroke-width="1.7" stroke-linecap="butt"/>
<line x1="452.25" y1="297.47" x2="457.25" y2="297.47" stroke="#000" stroke-width="1.7" stroke-linecap="butt"/>
<circle cx="454.75" cy="290.34" r="2.6" fill="#000"/>
<line x1="483.54" y1="295.69" x2="483.54" y2="283.98" stroke="#000" stroke-width="1.7" stroke-linecap="butt"/>
<line x1="481.04" y1="283.98" x2="486.04" y2="283.98" stroke="#000" stroke-width="1.7" stroke-linecap="butt"/>
<line x1="483.54" y1="295.69" x2="483.54" y2="307.40" stroke="#000" stroke-width="1.7" stroke-linecap="butt"/>
<line x1="481.04" y1="307.40" x2="486.04" y2="307.40" stroke="#000" stroke-width="1.7" stroke-linecap="butt"/>
<circle cx="483.54" cy="295.69" r="2.6" fill="#000"/>
<line x1="541.11" y1="306.38" x2="541.11" y2="293.14" stroke="#000" stroke-width="1.7" stroke-linecap="butt"/>
<line x1="538.61" y1="293.14" x2="543.61" y2="293.14" stroke="#000" stroke-width="1.7" stroke-linecap="butt"/>
<line x1="541.11" y1="306.38" x2="541.11" y2="319.62" stroke="#000" stroke-width="1.7" stroke-linecap="butt"/>
<line x1="538.61" y1="319.62" x2="543.61" y2="319.62" stroke="#000" stroke-width="1.7" stroke-linecap="butt"/>
<circle cx="541.11" cy="306.38" r="2.6" fill="#000"/>
<line x1="562.00" y1="272.30" x2="576.00" y2="272.30" stroke="#000" stroke-width="2.0" stroke-linecap="butt"/>
<circle cx="569.00" cy="272.30" r="2.5" fill="#000"/>
<text font-size="10.8" font-weight="bold" text-anchor="start" fill="#000" transform="translate(584.00 275.76) scale(1.0 1)">WT</text>
<line x1="562.00" y1="287.20" x2="576.00" y2="287.20" stroke="#ff0000" stroke-width="2.0" stroke-linecap="butt"/>
<rect x="566.10" y="284.30" width="5.80" height="5.80" fill="#ff0000"/>
<text font-size="10.8" font-weight="bold" text-anchor="start" fill="#000" transform="translate(584.00 290.66) scale(1.0 1)">PLPP1 KO</text>
<text font-size="13.9" font-weight="bold" text-anchor="middle" fill="#000" transform="translate(466.00 372.70) scale(1.0 1)">HFD</text>
<text font-size="24.0" font-weight="normal" text-anchor="start" fill="#000" transform="translate(-1.00 461.00) scale(1.08 1)">E</text>
<text font-size="13.9" font-weight="bold" text-anchor="middle" fill="#000" transform="translate(149.30 465.80) scale(1.0 1)">Pyruvate Tolerance Test</text>
<line x1="52.80" y1="495.80" x2="52.80" y2="623.00" stroke="#000" stroke-width="1.4" stroke-linecap="butt"/>
<line x1="49.30" y1="622.30" x2="52.80" y2="622.30" stroke="#000" stroke-width="1.4" stroke-linecap="butt"/>
<text font-size="10.3" font-weight="bold" text-anchor="end" fill="#000" transform="translate(47.80 626.40) scale(0.98 1)">0</text>
<line x1="49.30" y1="590.85" x2="52.80" y2="590.85" stroke="#000" stroke-width="1.4" stroke-linecap="butt"/>
<text font-size="10.3" font-weight="bold" text-anchor="end" fill="#000" transform="translate(47.80 594.95) scale(0.98 1)">5000</text>
<line x1="49.30" y1="559.40" x2="52.80" y2="559.40" stroke="#000" stroke-width="1.4" stroke-linecap="butt"/>
<text font-size="10.3" font-weight="bold" text-anchor="end" fill="#000" transform="translate(47.80 563.50) scale(0.98 1)">10000</text>
<line x1="49.30" y1="527.95" x2="52.80" y2="527.95" stroke="#000" stroke-width="1.4" stroke-linecap="butt"/>
<text font-size="10.3" font-weight="bold" text-anchor="end" fill="#000" transform="translate(47.80 532.05) scale(0.98 1)">15000</text>
<line x1="49.30" y1="496.50" x2="52.80" y2="496.50" stroke="#000" stroke-width="1.4" stroke-linecap="butt"/>
<text font-size="10.3" font-weight="bold" text-anchor="end" fill="#000" transform="translate(47.80 500.60) scale(0.98 1)">20000</text>
<line x1="52.10" y1="622.30" x2="243.30" y2="622.30" stroke="#000" stroke-width="1.4" stroke-linecap="butt"/>
<line x1="100.80" y1="622.30" x2="100.80" y2="625.30" stroke="#000" stroke-width="1.4" stroke-linecap="butt"/>
<line x1="195.60" y1="622.30" x2="195.60" y2="625.30" stroke="#000" stroke-width="1.4" stroke-linecap="butt"/>
<rect x="70.70" y="530.80" width="25.30" height="91.50" fill="#000"/>
<line x1="83.30" y1="530.80" x2="83.30" y2="526.80" stroke="#000" stroke-width="2.0" stroke-linecap="butt"/>
<line x1="77.55" y1="526.80" x2="89.05" y2="526.80" stroke="#000" stroke-width="2.0" stroke-linecap="butt"/>
<rect x="105.90" y="546.50" width="25.60" height="75.80" fill="#ff0000"/>
<line x1="118.70" y1="546.50" x2="118.70" y2="542.50" stroke="#ff0000" stroke-width="2.0" stroke-linecap="butt"/>
<line x1="112.95" y1="542.50" x2="124.45" y2="542.50" stroke="#ff0000" stroke-width="2.0" stroke-linecap="butt"/>
<rect x="165.30" y="515.90" width="25.40" height="106.40" fill="#000"/>
<line x1="178.00" y1="515.90" x2="178.00" y2="508.70" stroke="#000" stroke-width="2.0" stroke-linecap="butt"/>
<line x1="172.25" y1="508.70" x2="183.75" y2="508.70" stroke="#000" stroke-width="2.0" stroke-linecap="butt"/>
<rect x="201.20" y="536.10" width="25.30" height="86.20" fill="#ff0000"/>
<line x1="213.80" y1="536.10" x2="213.80" y2="532.60" stroke="#ff0000" stroke-width="2.0" stroke-linecap="butt"/>
<line x1="208.05" y1="532.60" x2="219.55" y2="532.60" stroke="#ff0000" stroke-width="2.0" stroke-linecap="butt"/>
<polyline points="177.30,500.00 177.30,493.50 214.10,493.50 214.10,526.00" fill="none" stroke="#000" stroke-width="1.8" stroke-linejoin="round"/>
<text font-size="16" font-weight="bold" text-anchor="middle" fill="#000" transform="translate(195.00 496.00) scale(1.0 1)">*</text>
<text font-size="12.2" font-weight="bold" text-anchor="middle" fill="#000" transform="translate(99.20 639.00) scale(1.0 1)" textLength="33.0" lengthAdjust="spacingAndGlyphs">Chow</text>
<text font-size="12.2" font-weight="bold" text-anchor="middle" fill="#000" transform="translate(195.50 639.00) scale(1.0 1)">HFD</text>
<text font-size="10.4" font-weight="bold" text-anchor="middle" fill="#000" transform="translate(14.50 558.80) scale(1.0 1) rotate(-90)" textLength="48.0" lengthAdjust="spacingAndGlyphs">Total AUC</text>
<rect x="72.00" y="488.10" width="14.70" height="7.80" fill="#000"/>
<rect x="72.00" y="502.50" width="14.70" height="7.90" fill="#ff0000"/>
<text font-size="10.5" font-weight="bold" text-anchor="start" fill="#000" transform="translate(93.90 495.80) scale(1.0 1)">WT</text>
<text font-size="10.5" font-weight="bold" text-anchor="start" fill="#000" transform="translate(93.90 510.30) scale(1.0 1)">PLPP1 KO</text>
<text font-size="24.0" font-weight="normal" text-anchor="start" fill="#000" transform="translate(322.00 472.90) scale(1.08 1)">F</text>
<text font-size="13.9" font-weight="bold" text-anchor="middle" fill="#000" transform="translate(464.90 465.80) scale(1.0 1)" textLength="157.0" lengthAdjust="spacingAndGlyphs">Glucose Tolerance Test</text>
<line x1="370.40" y1="492.10" x2="370.40" y2="621.60" stroke="#000" stroke-width="1.4" stroke-linecap="butt"/>
<line x1="366.90" y1="620.90" x2="370.40" y2="620.90" stroke="#000" stroke-width="1.4" stroke-linecap="butt"/>
<text font-size="10.3" font-weight="bold" text-anchor="end" fill="#000" transform="translate(365.40 625.00) scale(0.98 1)">0</text>
<line x1="366.90" y1="595.28" x2="370.40" y2="595.28" stroke="#000" stroke-width="1.4" stroke-linecap="butt"/>
<text font-size="10.3" font-weight="bold" text-anchor="end" fill="#000" transform="translate(365.40 599.38) scale(0.98 1)">100</text>
<line x1="366.90" y1="569.66" x2="370.40" y2="569.66" stroke="#000" stroke-width="1.4" stroke-linecap="butt"/>
<text font-size="10.3" font-weight="bold" text-anchor="end" fill="#000" transform="translate(365.40 573.76) scale(0.98 1)">200</text>
<line x1="366.90" y1="544.04" x2="370.40" y2="544.04" stroke="#000" stroke-width="1.4" stroke-linecap="butt"/>
<text font-size="10.3" font-weight="bold" text-anchor="end" fill="#000" transform="translate(365.40 548.14) scale(0.98 1)">300</text>
<line x1="366.90" y1="518.42" x2="370.40" y2="518.42" stroke="#000" stroke-width="1.4" stroke-linecap="butt"/>
<text font-size="10.3" font-weight="bold" text-anchor="end" fill="#000" transform="translate(365.40 522.52) scale(0.98 1)">400</text>
<line x1="366.90" y1="492.80" x2="370.40" y2="492.80" stroke="#000" stroke-width="1.4" stroke-linecap="butt"/>
<text font-size="10.3" font-weight="bold" text-anchor="end" fill="#000" transform="translate(365.40 496.90) scale(0.98 1)">500</text>
<line x1="369.70" y1="620.90" x2="562.60" y2="620.90" stroke="#000" stroke-width="1.4" stroke-linecap="butt"/>
<line x1="370.40" y1="620.90" x2="370.40" y2="624.40" stroke="#000" stroke-width="1.4" stroke-linecap="butt"/>
<text font-size="10.3" font-weight="bold" text-anchor="middle" fill="#000" transform="translate(370.40 635.10) scale(0.98 1)">0</text>
<line x1="408.70" y1="620.90" x2="408.70" y2="624.40" stroke="#000" stroke-width="1.4" stroke-linecap="butt"/>
<text font-size="10.3" font-weight="bold" text-anchor="middle" fill="#000" transform="translate(408.70 635.10) scale(0.98 1)">20</text>
<line x1="447.00" y1="620.90" x2="447.00" y2="624.40" stroke="#000" stroke-width="1.4" stroke-linecap="butt"/>
<text font-size="10.3" font-weight="bold" text-anchor="middle" fill="#000" transform="translate(447.00 635.10) scale(0.98 1)">40</text>
<line x1="485.30" y1="620.90" x2="485.30" y2="624.40" stroke="#000" stroke-width="1.4" stroke-linecap="butt"/>
<text font-size="10.3" font-weight="bold" text-anchor="middle" fill="#000" transform="translate(485.30 635.10) scale(0.98 1)">60</text>
<line x1="523.60" y1="620.90" x2="523.60" y2="624.40" stroke="#000" stroke-width="1.4" stroke-linecap="butt"/>
<text font-size="10.3" font-weight="bold" text-anchor="middle" fill="#000" transform="translate(523.60 635.10) scale(0.98 1)">80</text>
<line x1="561.90" y1="620.90" x2="561.90" y2="624.40" stroke="#000" stroke-width="1.4" stroke-linecap="butt"/>
<text font-size="10.3" font-weight="bold" text-anchor="middle" fill="#000" transform="translate(561.90 635.10) scale(0.98 1)">100</text>
<text font-size="10.2" font-weight="bold" text-anchor="middle" fill="#000" transform="translate(466.60 648.00) scale(1.0 1)" textLength="51.3" lengthAdjust="spacingAndGlyphs">Time (min)</text>
<text font-size="10.4" font-weight="bold" text-anchor="middle" fill="#000" transform="translate(340.80 556.40) scale(1.0 1) rotate(-90)" textLength="114.8" lengthAdjust="spacingAndGlyphs">Blood glucose (mg/dL)</text>
<polyline points="370.40,582.21 399.12,545.58 427.85,553.52 456.57,557.62 485.30,565.05 542.75,577.35" fill="none" stroke="#000" stroke-width="1.3" stroke-linejoin="round"/>
<polyline points="370.40,593.23 399.12,547.11 427.85,558.39 456.57,564.28 485.30,571.45 542.75,581.32" fill="none" stroke="#ff0000" stroke-width="1.3" stroke-linejoin="round"/>
<polyline points="370.40,584.26 399.12,544.04 427.85,522.65 456.57,530.72 485.30,539.68 542.75,550.96" fill="none" stroke="#000" stroke-width="1.3" stroke-linejoin="round" stroke-dasharray="3.2,2.4"/>
<polyline points="370.40,594.00 399.12,536.61 427.85,529.18 456.57,539.68 485.30,542.63 542.75,560.44" fill="none" stroke="#ff0000" stroke-width="1.3" stroke-linejoin="round" stroke-dasharray="3.2,2.4"/>
<line x1="370.40" y1="582.21" x2="370.40" y2="580.16" stroke="#000" stroke-width="1.4" stroke-linecap="butt"/>
<line x1="368.15" y1="580.16" x2="372.65" y2="580.16" stroke="#000" stroke-width="1.4" stroke-linecap="butt"/>
<line x1="370.40" y1="582.21" x2="370.40" y2="584.26" stroke="#000" stroke-width="1.4" stroke-linecap="butt"/>
<line x1="368.15" y1="584.26" x2="372.65" y2="584.26" stroke="#000" stroke-width="1.4" stroke-linecap="butt"/>
<circle cx="370.40" cy="582.21" r="2.6" fill="#000"/>
<line x1="399.12" y1="545.58" x2="399.12" y2="543.53" stroke="#000" stroke-width="1.4" stroke-linecap="butt"/>
<line x1="396.88" y1="543.53" x2="401.38" y2="543.53" stroke="#000" stroke-width="1.4" stroke-linecap="butt"/>
<line x1="399.12" y1="545.58" x2="399.12" y2="547.63" stroke="#000" stroke-width="1.4" stroke-linecap="butt"/>
<line x1="396.88" y1="547.63" x2="401.38" y2="547.63" stroke="#000" stroke-width="1.4" stroke-linecap="butt"/>
<circle cx="399.12" cy="545.58" r="2.6" fill="#000"/>
<line x1="427.85" y1="553.52" x2="427.85" y2="544.04" stroke="#000" stroke-width="1.4" stroke-linecap="butt"/>
<line x1="425.60" y1="544.04" x2="430.10" y2="544.04" stroke="#000" stroke-width="1.4" stroke-linecap="butt"/>
<line x1="427.85" y1="553.52" x2="427.85" y2="563.00" stroke="#000" stroke-width="1.4" stroke-linecap="butt"/>
<line x1="425.60" y1="563.00" x2="430.10" y2="563.00" stroke="#000" stroke-width="1.4" stroke-linecap="butt"/>
<circle cx="427.85" cy="553.52" r="2.6" fill="#000"/>
<line x1="456.57" y1="557.62" x2="456.57" y2="547.63" stroke="#000" stroke-width="1.4" stroke-linecap="butt"/>
<line x1="454.32" y1="547.63" x2="458.82" y2="547.63" stroke="#000" stroke-width="1.4" stroke-linecap="butt"/>
<line x1="456.57" y1="557.62" x2="456.57" y2="567.61" stroke="#000" stroke-width="1.4" stroke-linecap="butt"/>
<line x1="454.32" y1="567.61" x2="458.82" y2="567.61" stroke="#000" stroke-width="1.4" stroke-linecap="butt"/>
<circle cx="456.57" cy="557.62" r="2.6" fill="#000"/>
<line x1="485.30" y1="565.05" x2="485.30" y2="557.11" stroke="#000" stroke-width="1.4" stroke-linecap="butt"/>
<line x1="483.05" y1="557.11" x2="487.55" y2="557.11" stroke="#000" stroke-width="1.4" stroke-linecap="butt"/>
<line x1="485.30" y1="565.05" x2="485.30" y2="572.99" stroke="#000" stroke-width="1.4" stroke-linecap="butt"/>
<line x1="483.05" y1="572.99" x2="487.55" y2="572.99" stroke="#000" stroke-width="1.4" stroke-linecap="butt"/>
<circle cx="485.30" cy="565.05" r="2.6" fill="#000"/>
<line x1="542.75" y1="577.35" x2="542.75" y2="573.25" stroke="#000" stroke-width="1.4" stroke-linecap="butt"/>
<line x1="540.50" y1="573.25" x2="545.00" y2="573.25" stroke="#000" stroke-width="1.4" stroke-linecap="butt"/>
<line x1="542.75" y1="577.35" x2="542.75" y2="581.45" stroke="#000" stroke-width="1.4" stroke-linecap="butt"/>
<line x1="540.50" y1="581.45" x2="545.00" y2="581.45" stroke="#000" stroke-width="1.4" stroke-linecap="butt"/>
<circle cx="542.75" cy="577.35" r="2.6" fill="#000"/>
<line x1="370.40" y1="593.23" x2="370.40" y2="590.16" stroke="#ff0000" stroke-width="1.4" stroke-linecap="butt"/>
<line x1="368.15" y1="590.16" x2="372.65" y2="590.16" stroke="#ff0000" stroke-width="1.4" stroke-linecap="butt"/>
<line x1="370.40" y1="593.23" x2="370.40" y2="596.30" stroke="#ff0000" stroke-width="1.4" stroke-linecap="butt"/>
<line x1="368.15" y1="596.30" x2="372.65" y2="596.30" stroke="#ff0000" stroke-width="1.4" stroke-linecap="butt"/>
<rect x="367.90" y="590.73" width="5.00" height="5.00" fill="#ff0000"/>
<line x1="399.12" y1="547.11" x2="399.12" y2="545.06" stroke="#ff0000" stroke-width="1.4" stroke-linecap="butt"/>
<line x1="396.88" y1="545.06" x2="401.38" y2="545.06" stroke="#ff0000" stroke-width="1.4" stroke-linecap="butt"/>
<line x1="399.12" y1="547.11" x2="399.12" y2="549.16" stroke="#ff0000" stroke-width="1.4" stroke-linecap="butt"/>
<line x1="396.88" y1="549.16" x2="401.38" y2="549.16" stroke="#ff0000" stroke-width="1.4" stroke-linecap="butt"/>
<rect x="396.62" y="544.61" width="5.00" height="5.00" fill="#ff0000"/>
<line x1="427.85" y1="558.39" x2="427.85" y2="553.26" stroke="#ff0000" stroke-width="1.4" stroke-linecap="butt"/>
<line x1="425.60" y1="553.26" x2="430.10" y2="553.26" stroke="#ff0000" stroke-width="1.4" stroke-linecap="butt"/>
<line x1="427.85" y1="558.39" x2="427.85" y2="563.51" stroke="#ff0000" stroke-width="1.4" stroke-linecap="butt"/>
<line x1="425.60" y1="563.51" x2="430.10" y2="563.51" stroke="#ff0000" stroke-width="1.4" stroke-linecap="butt"/>
<rect x="425.35" y="555.89" width="5.00" height="5.00" fill="#ff0000"/>
<line x1="456.57" y1="564.28" x2="456.57" y2="560.18" stroke="#ff0000" stroke-width="1.4" stroke-linecap="butt"/>
<line x1="454.32" y1="560.18" x2="458.82" y2="560.18" stroke="#ff0000" stroke-width="1.4" stroke-linecap="butt"/>
<line x1="456.57" y1="564.28" x2="456.57" y2="568.38" stroke="#ff0000" stroke-width="1.4" stroke-linecap="butt"/>
<line x1="454.32" y1="568.38" x2="458.82" y2="568.38" stroke="#ff0000" stroke-width="1.4" stroke-linecap="butt"/>
<rect x="454.07" y="561.78" width="5.00" height="5.00" fill="#ff0000"/>
<line x1="485.30" y1="571.45" x2="485.30" y2="567.35" stroke="#ff0000" stroke-width="1.4" stroke-linecap="butt"/>
<line x1="483.05" y1="567.35" x2="487.55" y2="567.35" stroke="#ff0000" stroke-width="1.4" stroke-linecap="butt"/>
<line x1="485.30" y1="571.45" x2="485.30" y2="575.55" stroke="#ff0000" stroke-width="1.4" stroke-linecap="butt"/>
<line x1="483.05" y1="575.55" x2="487.55" y2="575.55" stroke="#ff0000" stroke-width="1.4" stroke-linecap="butt"/>
<rect x="482.80" y="568.95" width="5.00" height="5.00" fill="#ff0000"/>
<line x1="542.75" y1="581.32" x2="542.75" y2="578.24" stroke="#ff0000" stroke-width="1.4" stroke-linecap="butt"/>
<line x1="540.50" y1="578.24" x2="545.00" y2="578.24" stroke="#ff0000" stroke-width="1.4" stroke-linecap="butt"/>
<line x1="542.75" y1="581.32" x2="542.75" y2="584.39" stroke="#ff0000" stroke-width="1.4" stroke-linecap="butt"/>
<line x1="540.50" y1="584.39" x2="545.00" y2="584.39" stroke="#ff0000" stroke-width="1.4" stroke-linecap="butt"/>
<rect x="540.25" y="578.82" width="5.00" height="5.00" fill="#ff0000"/>
<line x1="370.40" y1="584.26" x2="370.40" y2="582.21" stroke="#000" stroke-width="1.4" stroke-linecap="butt"/>
<line x1="368.15" y1="582.21" x2="372.65" y2="582.21" stroke="#000" stroke-width="1.4" stroke-linecap="butt"/>
<line x1="370.40" y1="584.26" x2="370.40" y2="586.31" stroke="#000" stroke-width="1.4" stroke-linecap="butt"/>
<line x1="368.15" y1="586.31" x2="372.65" y2="586.31" stroke="#000" stroke-width="1.4" stroke-linecap="butt"/>
<circle cx="370.40" cy="584.26" r="2.6" fill="#000"/>
<line x1="399.12" y1="544.04" x2="399.12" y2="541.99" stroke="#000" stroke-width="1.4" stroke-linecap="butt"/>
<line x1="396.88" y1="541.99" x2="401.38" y2="541.99" stroke="#000" stroke-width="1.4" stroke-linecap="butt"/>
<line x1="399.12" y1="544.04" x2="399.12" y2="546.09" stroke="#000" stroke-width="1.4" stroke-linecap="butt"/>
<line x1="396.88" y1="546.09" x2="401.38" y2="546.09" stroke="#000" stroke-width="1.4" stroke-linecap="butt"/>
<circle cx="399.12" cy="544.04" r="2.6" fill="#000"/>
<line x1="427.85" y1="522.65" x2="427.85" y2="514.71" stroke="#000" stroke-width="1.4" stroke-linecap="butt"/>
<line x1="425.60" y1="514.71" x2="430.10" y2="514.71" stroke="#000" stroke-width="1.4" stroke-linecap="butt"/>
<line x1="427.85" y1="522.65" x2="427.85" y2="530.59" stroke="#000" stroke-width="1.4" stroke-linecap="butt"/>
<line x1="425.60" y1="530.59" x2="430.10" y2="530.59" stroke="#000" stroke-width="1.4" stroke-linecap="butt"/>
<circle cx="427.85" cy="522.65" r="2.6" fill="#000"/>
<line x1="456.57" y1="530.72" x2="456.57" y2="524.82" stroke="#000" stroke-width="1.4" stroke-linecap="butt"/>
<line x1="454.32" y1="524.82" x2="458.82" y2="524.82" stroke="#000" stroke-width="1.4" stroke-linecap="butt"/>
<line x1="456.57" y1="530.72" x2="456.57" y2="536.61" stroke="#000" stroke-width="1.4" stroke-linecap="butt"/>
<line x1="454.32" y1="536.61" x2="458.82" y2="536.61" stroke="#000" stroke-width="1.4" stroke-linecap="butt"/>
<circle cx="456.57" cy="530.72" r="2.6" fill="#000"/>
<line x1="485.30" y1="539.68" x2="485.30" y2="532.25" stroke="#000" stroke-width="1.4" stroke-linecap="butt"/>
<line x1="483.05" y1="532.25" x2="487.55" y2="532.25" stroke="#000" stroke-width="1.4" stroke-linecap="butt"/>
<line x1="485.30" y1="539.68" x2="485.30" y2="547.11" stroke="#000" stroke-width="1.4" stroke-linecap="butt"/>
<line x1="483.05" y1="547.11" x2="487.55" y2="547.11" stroke="#000" stroke-width="1.4" stroke-linecap="butt"/>
<circle cx="485.30" cy="539.68" r="2.6" fill="#000"/>
<line x1="542.75" y1="550.96" x2="542.75" y2="545.83" stroke="#000" stroke-width="1.4" stroke-linecap="butt"/>
<line x1="540.50" y1="545.83" x2="545.00" y2="545.83" stroke="#000" stroke-width="1.4" stroke-linecap="butt"/>
<line x1="542.75" y1="550.96" x2="542.75" y2="556.08" stroke="#000" stroke-width="1.4" stroke-linecap="butt"/>
<line x1="540.50" y1="556.08" x2="545.00" y2="556.08" stroke="#000" stroke-width="1.4" stroke-linecap="butt"/>
<circle cx="542.75" cy="550.96" r="2.6" fill="#000"/>
<line x1="370.40" y1="594.00" x2="370.40" y2="590.92" stroke="#ff0000" stroke-width="1.4" stroke-linecap="butt"/>
<line x1="368.15" y1="590.92" x2="372.65" y2="590.92" stroke="#ff0000" stroke-width="1.4" stroke-linecap="butt"/>
<line x1="370.40" y1="594.00" x2="370.40" y2="597.07" stroke="#ff0000" stroke-width="1.4" stroke-linecap="butt"/>
<line x1="368.15" y1="597.07" x2="372.65" y2="597.07" stroke="#ff0000" stroke-width="1.4" stroke-linecap="butt"/>
<rect x="367.90" y="591.50" width="5.00" height="5.00" fill="#ff0000"/>
<line x1="399.12" y1="536.61" x2="399.12" y2="530.21" stroke="#ff0000" stroke-width="1.4" stroke-linecap="butt"/>
<line x1="396.88" y1="530.21" x2="401.38" y2="530.21" stroke="#ff0000" stroke-width="1.4" stroke-linecap="butt"/>
<line x1="399.12" y1="536.61" x2="399.12" y2="543.02" stroke="#ff0000" stroke-width="1.4" stroke-linecap="butt"/>
<line x1="396.88" y1="543.02" x2="401.38" y2="543.02" stroke="#ff0000" stroke-width="1.4" stroke-linecap="butt"/>
<rect x="396.62" y="534.11" width="5.00" height="5.00" fill="#ff0000"/>
<line x1="427.85" y1="529.18" x2="427.85" y2="523.29" stroke="#ff0000" stroke-width="1.4" stroke-linecap="butt"/>
<line x1="425.60" y1="523.29" x2="430.10" y2="523.29" stroke="#ff0000" stroke-width="1.4" stroke-linecap="butt"/>
<line x1="427.85" y1="529.18" x2="427.85" y2="535.07" stroke="#ff0000" stroke-width="1.4" stroke-linecap="butt"/>
<line x1="425.60" y1="535.07" x2="430.10" y2="535.07" stroke="#ff0000" stroke-width="1.4" stroke-linecap="butt"/>
<rect x="425.35" y="526.68" width="5.00" height="5.00" fill="#ff0000"/>
<line x1="456.57" y1="539.68" x2="456.57" y2="533.28" stroke="#ff0000" stroke-width="1.4" stroke-linecap="butt"/>
<line x1="454.32" y1="533.28" x2="458.82" y2="533.28" stroke="#ff0000" stroke-width="1.4" stroke-linecap="butt"/>
<line x1="456.57" y1="539.68" x2="456.57" y2="546.09" stroke="#ff0000" stroke-width="1.4" stroke-linecap="butt"/>
<line x1="454.32" y1="546.09" x2="458.82" y2="546.09" stroke="#ff0000" stroke-width="1.4" stroke-linecap="butt"/>
<rect x="454.07" y="537.18" width="5.00" height="5.00" fill="#ff0000"/>
<line x1="485.30" y1="542.63" x2="485.30" y2="535.20" stroke="#ff0000" stroke-width="1.4" stroke-linecap="butt"/>
<line x1="483.05" y1="535.20" x2="487.55" y2="535.20" stroke="#ff0000" stroke-width="1.4" stroke-linecap="butt"/>
<line x1="485.30" y1="542.63" x2="485.30" y2="550.06" stroke="#ff0000" stroke-width="1.4" stroke-linecap="butt"/>
<line x1="483.05" y1="550.06" x2="487.55" y2="550.06" stroke="#ff0000" stroke-width="1.4" stroke-linecap="butt"/>
<rect x="482.80" y="540.13" width="5.00" height="5.00" fill="#ff0000"/>
<line x1="542.75" y1="560.44" x2="542.75" y2="554.54" stroke="#ff0000" stroke-width="1.4" stroke-linecap="butt"/>
<line x1="540.50" y1="554.54" x2="545.00" y2="554.54" stroke="#ff0000" stroke-width="1.4" stroke-linecap="butt"/>
<line x1="542.75" y1="560.44" x2="542.75" y2="566.33" stroke="#ff0000" stroke-width="1.4" stroke-linecap="butt"/>
<line x1="540.50" y1="566.33" x2="545.00" y2="566.33" stroke="#ff0000" stroke-width="1.4" stroke-linecap="butt"/>
<rect x="540.25" y="557.94" width="5.00" height="5.00" fill="#ff0000"/>
<line x1="558.90" y1="492.50" x2="573.90" y2="492.50" stroke="#000" stroke-width="2.0" stroke-linecap="butt"/>
<circle cx="566.40" cy="492.50" r="2.5" fill="#000"/>
<text font-size="11.5" font-weight="bold" text-anchor="start" fill="#000" transform="translate(582.60 496.18) scale(1.0 1)">WT Chow</text>
<line x1="558.90" y1="508.50" x2="573.90" y2="508.50" stroke="#ff0000" stroke-width="2.0" stroke-linecap="butt"/>
<rect x="563.50" y="505.60" width="5.80" height="5.80" fill="#ff0000"/>
<text font-size="11.5" font-weight="bold" text-anchor="start" fill="#000" transform="translate(582.60 512.18) scale(1.0 1)">PLPP1 KO Chow</text>
<line x1="558.90" y1="523.90" x2="562.30" y2="523.90" stroke="#000" stroke-width="2.0" stroke-linecap="butt"/>
<line x1="570.70" y1="523.90" x2="573.90" y2="523.90" stroke="#000" stroke-width="2.0" stroke-linecap="butt"/>
<circle cx="566.40" cy="523.90" r="2.5" fill="#000"/>
<text font-size="11.5" font-weight="bold" text-anchor="start" fill="#000" transform="translate(582.60 527.58) scale(1.0 1)">WT HFD</text>
<line x1="558.90" y1="539.70" x2="562.30" y2="539.70" stroke="#ff0000" stroke-width="2.0" stroke-linecap="butt"/>
<line x1="570.70" y1="539.70" x2="573.90" y2="539.70" stroke="#ff0000" stroke-width="2.0" stroke-linecap="butt"/>
<rect x="563.50" y="536.80" width="5.80" height="5.80" fill="#ff0000"/>
<text font-size="11.5" font-weight="bold" text-anchor="start" fill="#000" transform="translate(582.60 543.38) scale(1.0 1)">PLPP1 KO HFD</text>
<text font-size="24.0" font-weight="normal" text-anchor="start" fill="#000" transform="translate(4.30 688.50) scale(1.08 1)">G</text>
<text font-size="13.9" font-weight="bold" text-anchor="middle" fill="#000" transform="translate(162.20 697.80) scale(1.0 1)" textLength="146.3" lengthAdjust="spacingAndGlyphs">Insulin Tolerance Test</text>
<line x1="52.80" y1="719.40" x2="52.80" y2="854.50" stroke="#000" stroke-width="1.4" stroke-linecap="butt"/>
<line x1="49.30" y1="853.80" x2="52.80" y2="853.80" stroke="#000" stroke-width="1.4" stroke-linecap="butt"/>
<text font-size="10.3" font-weight="bold" text-anchor="end" fill="#000" transform="translate(47.80 857.90) scale(0.98 1)">0</text>
<line x1="49.30" y1="820.38" x2="52.80" y2="820.38" stroke="#000" stroke-width="1.4" stroke-linecap="butt"/>
<text font-size="10.3" font-weight="bold" text-anchor="end" fill="#000" transform="translate(47.80 824.48) scale(0.98 1)">50</text>
<line x1="49.30" y1="786.95" x2="52.80" y2="786.95" stroke="#000" stroke-width="1.4" stroke-linecap="butt"/>
<text font-size="10.3" font-weight="bold" text-anchor="end" fill="#000" transform="translate(47.80 791.05) scale(0.98 1)">100</text>
<line x1="49.30" y1="753.52" x2="52.80" y2="753.52" stroke="#000" stroke-width="1.4" stroke-linecap="butt"/>
<text font-size="10.3" font-weight="bold" text-anchor="end" fill="#000" transform="translate(47.80 757.62) scale(0.98 1)">150</text>
<line x1="49.30" y1="720.10" x2="52.80" y2="720.10" stroke="#000" stroke-width="1.4" stroke-linecap="butt"/>
<text font-size="10.3" font-weight="bold" text-anchor="end" fill="#000" transform="translate(47.80 724.20) scale(0.98 1)">200</text>
<line x1="52.10" y1="853.80" x2="253.90" y2="853.80" stroke="#000" stroke-width="1.4" stroke-linecap="butt"/>
<line x1="52.80" y1="853.80" x2="52.80" y2="857.30" stroke="#000" stroke-width="1.4" stroke-linecap="butt"/>
<text font-size="10.3" font-weight="bold" text-anchor="middle" fill="#000" transform="translate(52.80 869.10) scale(0.98 1)">0</text>
<line x1="102.90" y1="853.80" x2="102.90" y2="857.30" stroke="#000" stroke-width="1.4" stroke-linecap="butt"/>
<text font-size="10.3" font-weight="bold" text-anchor="middle" fill="#000" transform="translate(102.90 869.10) scale(0.98 1)">20</text>
<line x1="153.00" y1="853.80" x2="153.00" y2="857.30" stroke="#000" stroke-width="1.4" stroke-linecap="butt"/>
<text font-size="10.3" font-weight="bold" text-anchor="middle" fill="#000" transform="translate(153.00 869.10) scale(0.98 1)">40</text>
<line x1="203.10" y1="853.80" x2="203.10" y2="857.30" stroke="#000" stroke-width="1.4" stroke-linecap="butt"/>
<text font-size="10.3" font-weight="bold" text-anchor="middle" fill="#000" transform="translate(203.10 869.10) scale(0.98 1)">60</text>
<line x1="253.20" y1="853.80" x2="253.20" y2="857.30" stroke="#000" stroke-width="1.4" stroke-linecap="butt"/>
<text font-size="10.3" font-weight="bold" text-anchor="middle" fill="#000" transform="translate(253.20 869.10) scale(0.98 1)">80</text>
<text font-size="10.6" font-weight="bold" text-anchor="middle" fill="#000" transform="translate(153.50 883.20) scale(1.0 1)" textLength="53.3" lengthAdjust="spacingAndGlyphs">Time (min)</text>
<text font-size="11.1" font-weight="bold" text-anchor="middle" fill="#000" transform="translate(23.70 787.50) scale(1.0 1) rotate(-90)" textLength="124.5" lengthAdjust="spacingAndGlyphs">Blood Glucose (mg/dL)</text>
<polyline points="52.80,747.37 77.85,742.83 102.90,781.87 127.95,795.04 153.00,801.66 178.05,799.92 203.10,805.80" fill="none" stroke="#000" stroke-width="1.6" stroke-linejoin="round"/>
<line x1="52.80" y1="747.37" x2="52.80" y2="735.34" stroke="#000" stroke-width="1.8" stroke-linecap="butt"/>
<line x1="50.05" y1="735.34" x2="55.55" y2="735.34" stroke="#000" stroke-width="1.8" stroke-linecap="butt"/>
<line x1="52.80" y1="747.37" x2="52.80" y2="759.41" stroke="#000" stroke-width="1.8" stroke-linecap="butt"/>
<line x1="50.05" y1="759.41" x2="55.55" y2="759.41" stroke="#000" stroke-width="1.8" stroke-linecap="butt"/>
<circle cx="52.80" cy="747.37" r="2.8" fill="#000"/>
<line x1="77.85" y1="742.83" x2="77.85" y2="728.12" stroke="#000" stroke-width="1.8" stroke-linecap="butt"/>
<line x1="75.10" y1="728.12" x2="80.60" y2="728.12" stroke="#000" stroke-width="1.8" stroke-linecap="butt"/>
<line x1="77.85" y1="742.83" x2="77.85" y2="757.54" stroke="#000" stroke-width="1.8" stroke-linecap="butt"/>
<line x1="75.10" y1="757.54" x2="80.60" y2="757.54" stroke="#000" stroke-width="1.8" stroke-linecap="butt"/>
<circle cx="77.85" cy="742.83" r="2.8" fill="#000"/>
<line x1="102.90" y1="781.87" x2="102.90" y2="770.24" stroke="#000" stroke-width="1.8" stroke-linecap="butt"/>
<line x1="100.15" y1="770.24" x2="105.65" y2="770.24" stroke="#000" stroke-width="1.8" stroke-linecap="butt"/>
<line x1="102.90" y1="781.87" x2="102.90" y2="793.50" stroke="#000" stroke-width="1.8" stroke-linecap="butt"/>
<line x1="100.15" y1="793.50" x2="105.65" y2="793.50" stroke="#000" stroke-width="1.8" stroke-linecap="butt"/>
<circle cx="102.90" cy="781.87" r="2.8" fill="#000"/>
<line x1="127.95" y1="795.04" x2="127.95" y2="787.95" stroke="#000" stroke-width="1.8" stroke-linecap="butt"/>
<line x1="125.20" y1="787.95" x2="130.70" y2="787.95" stroke="#000" stroke-width="1.8" stroke-linecap="butt"/>
<line x1="127.95" y1="795.04" x2="127.95" y2="802.12" stroke="#000" stroke-width="1.8" stroke-linecap="butt"/>
<line x1="125.20" y1="802.12" x2="130.70" y2="802.12" stroke="#000" stroke-width="1.8" stroke-linecap="butt"/>
<circle cx="127.95" cy="795.04" r="2.8" fill="#000"/>
<line x1="153.00" y1="801.66" x2="153.00" y2="793.63" stroke="#000" stroke-width="1.8" stroke-linecap="butt"/>
<line x1="150.25" y1="793.63" x2="155.75" y2="793.63" stroke="#000" stroke-width="1.8" stroke-linecap="butt"/>
<line x1="153.00" y1="801.66" x2="153.00" y2="809.68" stroke="#000" stroke-width="1.8" stroke-linecap="butt"/>
<line x1="150.25" y1="809.68" x2="155.75" y2="809.68" stroke="#000" stroke-width="1.8" stroke-linecap="butt"/>
<circle cx="153.00" cy="801.66" r="2.8" fill="#000"/>
<line x1="178.05" y1="799.92" x2="178.05" y2="788.29" stroke="#000" stroke-width="1.8" stroke-linecap="butt"/>
<line x1="175.30" y1="788.29" x2="180.80" y2="788.29" stroke="#000" stroke-width="1.8" stroke-linecap="butt"/>
<line x1="178.05" y1="799.92" x2="178.05" y2="811.55" stroke="#000" stroke-width="1.8" stroke-linecap="butt"/>
<line x1="175.30" y1="811.55" x2="180.80" y2="811.55" stroke="#000" stroke-width="1.8" stroke-linecap="butt"/>
<circle cx="178.05" cy="799.92" r="2.8" fill="#000"/>
<line x1="203.10" y1="805.80" x2="203.10" y2="797.78" stroke="#000" stroke-width="1.8" stroke-linecap="butt"/>
<line x1="200.35" y1="797.78" x2="205.85" y2="797.78" stroke="#000" stroke-width="1.8" stroke-linecap="butt"/>
<line x1="203.10" y1="805.80" x2="203.10" y2="813.82" stroke="#000" stroke-width="1.8" stroke-linecap="butt"/>
<line x1="200.35" y1="813.82" x2="205.85" y2="813.82" stroke="#000" stroke-width="1.8" stroke-linecap="butt"/>
<circle cx="203.10" cy="805.80" r="2.8" fill="#000"/>
<polyline points="52.80,755.00 77.85,766.63 102.90,794.17 127.95,802.99 153.00,804.20 178.05,804.00 203.10,802.06" fill="none" stroke="#ff0000" stroke-width="1.6" stroke-linejoin="round"/>
<line x1="52.80" y1="755.00" x2="52.80" y2="749.45" stroke="#ff0000" stroke-width="1.8" stroke-linecap="butt"/>
<line x1="50.05" y1="749.45" x2="55.55" y2="749.45" stroke="#ff0000" stroke-width="1.8" stroke-linecap="butt"/>
<line x1="52.80" y1="755.00" x2="52.80" y2="760.54" stroke="#ff0000" stroke-width="1.8" stroke-linecap="butt"/>
<line x1="50.05" y1="760.54" x2="55.55" y2="760.54" stroke="#ff0000" stroke-width="1.8" stroke-linecap="butt"/>
<rect x="50.00" y="752.20" width="5.60" height="5.60" fill="#ff0000"/>
<line x1="77.85" y1="766.63" x2="77.85" y2="761.75" stroke="#ff0000" stroke-width="1.8" stroke-linecap="butt"/>
<line x1="75.10" y1="761.75" x2="80.60" y2="761.75" stroke="#ff0000" stroke-width="1.8" stroke-linecap="butt"/>
<line x1="77.85" y1="766.63" x2="77.85" y2="771.51" stroke="#ff0000" stroke-width="1.8" stroke-linecap="butt"/>
<line x1="75.10" y1="771.51" x2="80.60" y2="771.51" stroke="#ff0000" stroke-width="1.8" stroke-linecap="butt"/>
<rect x="75.05" y="763.83" width="5.60" height="5.60" fill="#ff0000"/>
<line x1="102.90" y1="794.17" x2="102.90" y2="791.16" stroke="#ff0000" stroke-width="1.8" stroke-linecap="butt"/>
<line x1="100.15" y1="791.16" x2="105.65" y2="791.16" stroke="#ff0000" stroke-width="1.8" stroke-linecap="butt"/>
<line x1="102.90" y1="794.17" x2="102.90" y2="797.18" stroke="#ff0000" stroke-width="1.8" stroke-linecap="butt"/>
<line x1="100.15" y1="797.18" x2="105.65" y2="797.18" stroke="#ff0000" stroke-width="1.8" stroke-linecap="butt"/>
<rect x="100.10" y="791.37" width="5.60" height="5.60" fill="#ff0000"/>
<line x1="127.95" y1="802.99" x2="127.95" y2="800.52" stroke="#ff0000" stroke-width="1.8" stroke-linecap="butt"/>
<line x1="125.20" y1="800.52" x2="130.70" y2="800.52" stroke="#ff0000" stroke-width="1.8" stroke-linecap="butt"/>
<line x1="127.95" y1="802.99" x2="127.95" y2="805.47" stroke="#ff0000" stroke-width="1.8" stroke-linecap="butt"/>
<line x1="125.20" y1="805.47" x2="130.70" y2="805.47" stroke="#ff0000" stroke-width="1.8" stroke-linecap="butt"/>
<rect x="125.15" y="800.19" width="5.60" height="5.60" fill="#ff0000"/>
<line x1="153.00" y1="804.20" x2="153.00" y2="799.32" stroke="#ff0000" stroke-width="1.8" stroke-linecap="butt"/>
<line x1="150.25" y1="799.32" x2="155.75" y2="799.32" stroke="#ff0000" stroke-width="1.8" stroke-linecap="butt"/>
<line x1="153.00" y1="804.20" x2="153.00" y2="809.08" stroke="#ff0000" stroke-width="1.8" stroke-linecap="butt"/>
<line x1="150.25" y1="809.08" x2="155.75" y2="809.08" stroke="#ff0000" stroke-width="1.8" stroke-linecap="butt"/>
<rect x="150.20" y="801.40" width="5.60" height="5.60" fill="#ff0000"/>
<line x1="178.05" y1="804.00" x2="178.05" y2="796.64" stroke="#ff0000" stroke-width="1.8" stroke-linecap="butt"/>
<line x1="175.30" y1="796.64" x2="180.80" y2="796.64" stroke="#ff0000" stroke-width="1.8" stroke-linecap="butt"/>
<line x1="178.05" y1="804.00" x2="178.05" y2="811.35" stroke="#ff0000" stroke-width="1.8" stroke-linecap="butt"/>
<line x1="175.30" y1="811.35" x2="180.80" y2="811.35" stroke="#ff0000" stroke-width="1.8" stroke-linecap="butt"/>
<rect x="175.25" y="801.20" width="5.60" height="5.60" fill="#ff0000"/>
<line x1="203.10" y1="802.06" x2="203.10" y2="793.63" stroke="#ff0000" stroke-width="1.8" stroke-linecap="butt"/>
<line x1="200.35" y1="793.63" x2="205.85" y2="793.63" stroke="#ff0000" stroke-width="1.8" stroke-linecap="butt"/>
<line x1="203.10" y1="802.06" x2="203.10" y2="810.48" stroke="#ff0000" stroke-width="1.8" stroke-linecap="butt"/>
<line x1="200.35" y1="810.48" x2="205.85" y2="810.48" stroke="#ff0000" stroke-width="1.8" stroke-linecap="butt"/>
<rect x="200.30" y="799.26" width="5.60" height="5.60" fill="#ff0000"/>
<line x1="189.20" y1="729.10" x2="203.40" y2="729.10" stroke="#000" stroke-width="2.0" stroke-linecap="butt"/>
<circle cx="196.30" cy="729.10" r="2.5" fill="#000"/>
<text font-size="10.7" font-weight="bold" text-anchor="start" fill="#000" transform="translate(211.60 732.52) scale(1.0 1)">WT</text>
<line x1="189.20" y1="744.60" x2="203.40" y2="744.60" stroke="#ff0000" stroke-width="2.0" stroke-linecap="butt"/>
<rect x="193.40" y="741.70" width="5.80" height="5.80" fill="#ff0000"/>
<text font-size="10.7" font-weight="bold" text-anchor="start" fill="#000" transform="translate(211.60 748.02) scale(1.0 1)">PLPP1 KO</text>
<text font-size="14.1" font-weight="bold" text-anchor="middle" fill="#000" transform="translate(154.20 837.10) scale(1.0 1)">HFD</text>
<text font-size="24.0" font-weight="normal" text-anchor="start" fill="#000" transform="translate(312.80 690.70) scale(1.08 1)">H</text>
<text font-size="13.9" font-weight="bold" text-anchor="middle" fill="#000" transform="translate(467.40 697.20) scale(1.0 1)">Serum Insulin</text>
<line x1="370.20" y1="719.60" x2="370.20" y2="854.10" stroke="#000" stroke-width="1.2" stroke-linecap="butt"/>
<line x1="366.70" y1="853.50" x2="370.20" y2="853.50" stroke="#000" stroke-width="1.2" stroke-linecap="butt"/>
<text font-size="10.3" font-weight="normal" text-anchor="end" fill="#000" transform="translate(365.30 857.60) scale(0.98 1)" stroke="#000" stroke-width="0.35">0</text>
<line x1="366.70" y1="826.84" x2="370.20" y2="826.84" stroke="#000" stroke-width="1.2" stroke-linecap="butt"/>
<text font-size="10.3" font-weight="normal" text-anchor="end" fill="#000" transform="translate(365.30 830.94) scale(0.98 1)" stroke="#000" stroke-width="0.35">1</text>
<line x1="366.70" y1="800.18" x2="370.20" y2="800.18" stroke="#000" stroke-width="1.2" stroke-linecap="butt"/>
<text font-size="10.3" font-weight="normal" text-anchor="end" fill="#000" transform="translate(365.30 804.28) scale(0.98 1)" stroke="#000" stroke-width="0.35">2</text>
<line x1="366.70" y1="773.52" x2="370.20" y2="773.52" stroke="#000" stroke-width="1.2" stroke-linecap="butt"/>
<text font-size="10.3" font-weight="normal" text-anchor="end" fill="#000" transform="translate(365.30 777.62) scale(0.98 1)" stroke="#000" stroke-width="0.35">3</text>
<line x1="366.70" y1="746.86" x2="370.20" y2="746.86" stroke="#000" stroke-width="1.2" stroke-linecap="butt"/>
<text font-size="10.3" font-weight="normal" text-anchor="end" fill="#000" transform="translate(365.30 750.96) scale(0.98 1)" stroke="#000" stroke-width="0.35">4</text>
<line x1="366.70" y1="720.20" x2="370.20" y2="720.20" stroke="#000" stroke-width="1.2" stroke-linecap="butt"/>
<text font-size="10.3" font-weight="normal" text-anchor="end" fill="#000" transform="translate(365.30 724.30) scale(0.98 1)" stroke="#000" stroke-width="0.35">5</text>
<line x1="369.60" y1="853.50" x2="570.00" y2="853.50" stroke="#000" stroke-width="1.2" stroke-linecap="butt"/>
<line x1="420.00" y1="853.50" x2="420.00" y2="856.50" stroke="#000" stroke-width="1.2" stroke-linecap="butt"/>
<line x1="519.50" y1="853.50" x2="519.50" y2="856.50" stroke="#000" stroke-width="1.2" stroke-linecap="butt"/>
<rect x="388.20" y="806.31" width="26.80" height="47.19" fill="#000"/>
<line x1="401.60" y1="806.31" x2="401.60" y2="794.31" stroke="#000" stroke-width="2.0" stroke-linecap="butt"/>
<line x1="395.35" y1="794.31" x2="407.85" y2="794.31" stroke="#000" stroke-width="2.0" stroke-linecap="butt"/>
<rect x="425.40" y="820.97" width="27.00" height="32.53" fill="#ff0000"/>
<line x1="438.90" y1="820.97" x2="438.90" y2="810.84" stroke="#ff0000" stroke-width="2.0" stroke-linecap="butt"/>
<line x1="432.65" y1="810.84" x2="445.15" y2="810.84" stroke="#ff0000" stroke-width="2.0" stroke-linecap="butt"/>
<rect x="487.50" y="751.31" width="26.30" height="102.19" fill="#000"/>
<line x1="500.65" y1="751.31" x2="500.65" y2="738.33" stroke="#000" stroke-width="2.0" stroke-linecap="butt"/>
<line x1="494.40" y1="738.33" x2="506.90" y2="738.33" stroke="#000" stroke-width="2.0" stroke-linecap="butt"/>
<rect x="524.50" y="758.19" width="26.70" height="95.31" fill="#ff0000"/>
<line x1="537.85" y1="758.19" x2="537.85" y2="733.90" stroke="#ff0000" stroke-width="2.0" stroke-linecap="butt"/>
<line x1="531.60" y1="733.90" x2="544.10" y2="733.90" stroke="#ff0000" stroke-width="2.0" stroke-linecap="butt"/>
<polyline points="401.30,787.20 401.30,777.60 437.80,777.60 437.80,802.60" fill="none" stroke="#000" stroke-width="1.7" stroke-linejoin="round"/>
<text font-size="12.0" font-weight="bold" text-anchor="middle" fill="#000" transform="translate(420.00 772.20) scale(1.0 1)">ns</text>
<text font-size="10.8" font-weight="bold" text-anchor="end" fill="#000" transform="translate(424.00 866.50) scale(1.0 1) rotate(-45)">Fasted</text>
<text font-size="10.8" font-weight="bold" text-anchor="end" fill="#000" transform="translate(524.00 864.50) scale(1.0 1) rotate(-45)">Refed</text>
<text font-size="11.0" font-weight="normal" text-anchor="middle" fill="#000" transform="translate(353.30 786.40) scale(1.0 1) rotate(-90)" stroke="#000" stroke-width="0.35">ng/mL</text>
<rect x="568.00" y="723.10" width="15.70" height="7.80" fill="#000"/>
<rect x="568.00" y="737.60" width="15.70" height="7.80" fill="#ff0000"/>
<text font-size="10.4" font-weight="bold" text-anchor="start" fill="#000" transform="translate(590.40 730.20) scale(1.0 1)">WT</text>
<text font-size="10.4" font-weight="bold" text-anchor="start" fill="#000" transform="translate(590.40 744.70) scale(1.0 1)">PLPP1 KO</text>
</svg></body></html>
